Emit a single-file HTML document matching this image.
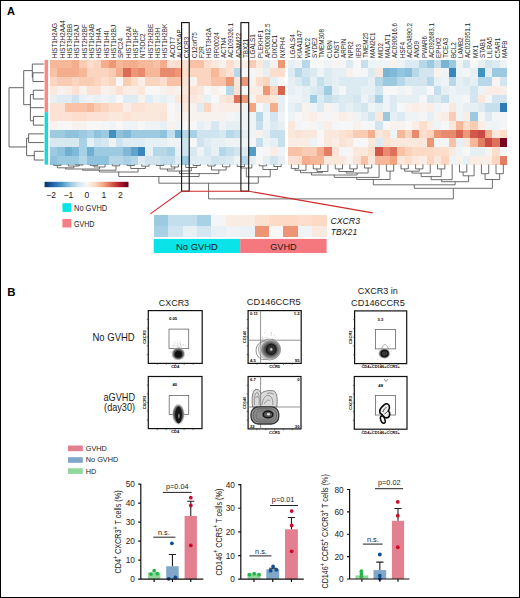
<!DOCTYPE html>
<html><head><meta charset="utf-8"><style>
html,body{margin:0;padding:0;background:#fff;}
body{width:520px;height:598px;overflow:hidden;}
.frame{position:relative;width:520px;height:598px;box-sizing:border-box;border:1px solid #000;border-top-width:1px;}
svg{position:absolute;left:-1px;top:-1px;}
</style></head><body><div class="frame">
<svg width="520" height="598" viewBox="0 0 520 598">
<g shape-rendering="crispEdges">
<rect x="50.00" y="59.70" width="7.64" height="9.03" fill="#f7b89a"/>
<rect x="57.34" y="59.70" width="7.64" height="9.03" fill="#f7b89a"/>
<rect x="64.68" y="59.70" width="7.64" height="9.03" fill="#f7b89a"/>
<rect x="72.02" y="59.70" width="7.64" height="9.03" fill="#f5ae8d"/>
<rect x="79.36" y="59.70" width="7.64" height="9.03" fill="#faccb3"/>
<rect x="86.70" y="59.70" width="7.64" height="9.03" fill="#fdddcb"/>
<rect x="94.04" y="59.70" width="7.64" height="9.03" fill="#fcd5c0"/>
<rect x="101.38" y="59.70" width="7.64" height="9.03" fill="#f5ae8d"/>
<rect x="108.72" y="59.70" width="7.64" height="9.03" fill="#ee9777"/>
<rect x="116.06" y="59.70" width="7.64" height="9.03" fill="#f7b89a"/>
<rect x="123.40" y="59.70" width="7.64" height="9.03" fill="#f5ae8d"/>
<rect x="130.74" y="59.70" width="7.64" height="9.03" fill="#f5ae8d"/>
<rect x="138.08" y="59.70" width="7.64" height="9.03" fill="#f7b89a"/>
<rect x="145.42" y="59.70" width="7.64" height="9.03" fill="#f7b89a"/>
<rect x="152.76" y="59.70" width="7.64" height="9.03" fill="#f9c2a7"/>
<rect x="160.10" y="59.70" width="7.64" height="9.03" fill="#f5ae8d"/>
<rect x="167.44" y="59.70" width="7.64" height="9.03" fill="#fbe2d4"/>
<rect x="174.78" y="59.70" width="7.64" height="9.03" fill="#fdddcb"/>
<rect x="182.12" y="59.70" width="7.64" height="9.03" fill="#fbe2d4"/>
<rect x="189.46" y="59.70" width="7.64" height="9.03" fill="#f9c2a7"/>
<rect x="196.80" y="59.70" width="7.64" height="9.03" fill="#f9c2a7"/>
<rect x="204.14" y="59.70" width="7.64" height="9.03" fill="#fdddcb"/>
<rect x="211.48" y="59.70" width="7.64" height="9.03" fill="#fae8dd"/>
<rect x="218.82" y="59.70" width="7.64" height="9.03" fill="#f8f2ee"/>
<rect x="226.16" y="59.70" width="7.64" height="9.03" fill="#fdddcb"/>
<rect x="233.50" y="59.70" width="7.64" height="9.03" fill="#f9ede5"/>
<rect x="240.84" y="59.70" width="7.64" height="9.03" fill="#f9ede5"/>
<rect x="248.18" y="59.70" width="7.64" height="9.03" fill="#faccb3"/>
<rect x="255.52" y="59.70" width="7.64" height="9.03" fill="#fae8dd"/>
<rect x="262.86" y="59.70" width="7.64" height="9.03" fill="#dceaf2"/>
<rect x="270.20" y="59.70" width="7.64" height="9.03" fill="#f8f2ee"/>
<rect x="277.54" y="59.70" width="7.64" height="9.03" fill="#ee9777"/>
<rect x="287.70" y="59.70" width="7.61" height="9.03" fill="#e5eff4"/>
<rect x="295.01" y="59.70" width="7.61" height="9.03" fill="#eef3f5"/>
<rect x="302.32" y="59.70" width="7.61" height="9.03" fill="#b7d8e9"/>
<rect x="309.63" y="59.70" width="7.61" height="9.03" fill="#f7f7f7"/>
<rect x="316.94" y="59.70" width="7.61" height="9.03" fill="#f7f7f7"/>
<rect x="324.25" y="59.70" width="7.61" height="9.03" fill="#eef3f5"/>
<rect x="331.56" y="59.70" width="7.61" height="9.03" fill="#f8f4f3"/>
<rect x="338.87" y="59.70" width="7.61" height="9.03" fill="#f3f5f6"/>
<rect x="346.18" y="59.70" width="7.61" height="9.03" fill="#dceaf2"/>
<rect x="353.49" y="59.70" width="7.61" height="9.03" fill="#f7f7f7"/>
<rect x="360.80" y="59.70" width="7.61" height="9.03" fill="#c6dfed"/>
<rect x="368.11" y="59.70" width="7.61" height="9.03" fill="#eef3f5"/>
<rect x="375.42" y="59.70" width="7.61" height="9.03" fill="#eef3f5"/>
<rect x="382.73" y="59.70" width="7.61" height="9.03" fill="#eef3f5"/>
<rect x="390.04" y="59.70" width="7.61" height="9.03" fill="#f8f2ee"/>
<rect x="397.35" y="59.70" width="7.61" height="9.03" fill="#eef3f5"/>
<rect x="404.66" y="59.70" width="7.61" height="9.03" fill="#dceaf2"/>
<rect x="411.97" y="59.70" width="7.61" height="9.03" fill="#dceaf2"/>
<rect x="419.28" y="59.70" width="7.61" height="9.03" fill="#b7d8e9"/>
<rect x="426.59" y="59.70" width="7.61" height="9.03" fill="#9ac9e0"/>
<rect x="433.90" y="59.70" width="7.61" height="9.03" fill="#c6dfed"/>
<rect x="441.21" y="59.70" width="7.61" height="9.03" fill="#77b4d5"/>
<rect x="448.52" y="59.70" width="7.61" height="9.03" fill="#9ac9e0"/>
<rect x="455.83" y="59.70" width="7.61" height="9.03" fill="#eef3f5"/>
<rect x="463.14" y="59.70" width="7.61" height="9.03" fill="#d3e6f0"/>
<rect x="470.45" y="59.70" width="7.61" height="9.03" fill="#f7f7f7"/>
<rect x="477.76" y="59.70" width="7.61" height="9.03" fill="#e5eff4"/>
<rect x="485.07" y="59.70" width="7.61" height="9.03" fill="#d3e6f0"/>
<rect x="492.38" y="59.70" width="7.61" height="9.03" fill="#dceaf2"/>
<rect x="499.69" y="59.70" width="7.61" height="9.03" fill="#eef3f5"/>
<rect x="50.00" y="68.42" width="7.64" height="9.03" fill="#f9c2a7"/>
<rect x="57.34" y="68.42" width="7.64" height="9.03" fill="#f5ae8d"/>
<rect x="64.68" y="68.42" width="7.64" height="9.03" fill="#f5ae8d"/>
<rect x="72.02" y="68.42" width="7.64" height="9.03" fill="#f5ae8d"/>
<rect x="79.36" y="68.42" width="7.64" height="9.03" fill="#f7b89a"/>
<rect x="86.70" y="68.42" width="7.64" height="9.03" fill="#fcd5c0"/>
<rect x="94.04" y="68.42" width="7.64" height="9.03" fill="#fcd5c0"/>
<rect x="101.38" y="68.42" width="7.64" height="9.03" fill="#fcd5c0"/>
<rect x="108.72" y="68.42" width="7.64" height="9.03" fill="#faccb3"/>
<rect x="116.06" y="68.42" width="7.64" height="9.03" fill="#f5ae8d"/>
<rect x="123.40" y="68.42" width="7.64" height="9.03" fill="#db6b55"/>
<rect x="130.74" y="68.42" width="7.64" height="9.03" fill="#ee9777"/>
<rect x="138.08" y="68.42" width="7.64" height="9.03" fill="#e88a6d"/>
<rect x="145.42" y="68.42" width="7.64" height="9.03" fill="#f7b89a"/>
<rect x="152.76" y="68.42" width="7.64" height="9.03" fill="#f7b89a"/>
<rect x="160.10" y="68.42" width="7.64" height="9.03" fill="#e88a6d"/>
<rect x="167.44" y="68.42" width="7.64" height="9.03" fill="#e88a6d"/>
<rect x="174.78" y="68.42" width="7.64" height="9.03" fill="#ee9777"/>
<rect x="182.12" y="68.42" width="7.64" height="9.03" fill="#fdddcb"/>
<rect x="189.46" y="68.42" width="7.64" height="9.03" fill="#fcd5c0"/>
<rect x="196.80" y="68.42" width="7.64" height="9.03" fill="#fcd5c0"/>
<rect x="204.14" y="68.42" width="7.64" height="9.03" fill="#fcd5c0"/>
<rect x="211.48" y="68.42" width="7.64" height="9.03" fill="#f7b89a"/>
<rect x="218.82" y="68.42" width="7.64" height="9.03" fill="#fcd5c0"/>
<rect x="226.16" y="68.42" width="7.64" height="9.03" fill="#fbe2d4"/>
<rect x="233.50" y="68.42" width="7.64" height="9.03" fill="#b7d8e9"/>
<rect x="240.84" y="68.42" width="7.64" height="9.03" fill="#f7f7f7"/>
<rect x="248.18" y="68.42" width="7.64" height="9.03" fill="#f3f5f6"/>
<rect x="255.52" y="68.42" width="7.64" height="9.03" fill="#f8f2ee"/>
<rect x="262.86" y="68.42" width="7.64" height="9.03" fill="#e5eff4"/>
<rect x="270.20" y="68.42" width="7.64" height="9.03" fill="#fdddcb"/>
<rect x="277.54" y="68.42" width="7.64" height="9.03" fill="#fdddcb"/>
<rect x="287.70" y="68.42" width="7.61" height="9.03" fill="#dceaf2"/>
<rect x="295.01" y="68.42" width="7.61" height="9.03" fill="#b7d8e9"/>
<rect x="302.32" y="68.42" width="7.61" height="9.03" fill="#d3e6f0"/>
<rect x="309.63" y="68.42" width="7.61" height="9.03" fill="#dceaf2"/>
<rect x="316.94" y="68.42" width="7.61" height="9.03" fill="#eef3f5"/>
<rect x="324.25" y="68.42" width="7.61" height="9.03" fill="#dceaf2"/>
<rect x="331.56" y="68.42" width="7.61" height="9.03" fill="#e5eff4"/>
<rect x="338.87" y="68.42" width="7.61" height="9.03" fill="#e5eff4"/>
<rect x="346.18" y="68.42" width="7.61" height="9.03" fill="#f8f2ee"/>
<rect x="353.49" y="68.42" width="7.61" height="9.03" fill="#f7f7f7"/>
<rect x="360.80" y="68.42" width="7.61" height="9.03" fill="#f3f5f6"/>
<rect x="368.11" y="68.42" width="7.61" height="9.03" fill="#dceaf2"/>
<rect x="375.42" y="68.42" width="7.61" height="9.03" fill="#fae8dd"/>
<rect x="382.73" y="68.42" width="7.61" height="9.03" fill="#77b4d5"/>
<rect x="390.04" y="68.42" width="7.61" height="9.03" fill="#80bad8"/>
<rect x="397.35" y="68.42" width="7.61" height="9.03" fill="#92c5de"/>
<rect x="404.66" y="68.42" width="7.61" height="9.03" fill="#89bfdb"/>
<rect x="411.97" y="68.42" width="7.61" height="9.03" fill="#b7d8e9"/>
<rect x="419.28" y="68.42" width="7.61" height="9.03" fill="#d3e6f0"/>
<rect x="426.59" y="68.42" width="7.61" height="9.03" fill="#d3e6f0"/>
<rect x="433.90" y="68.42" width="7.61" height="9.03" fill="#f8f2ee"/>
<rect x="441.21" y="68.42" width="7.61" height="9.03" fill="#eef3f5"/>
<rect x="448.52" y="68.42" width="7.61" height="9.03" fill="#3986bc"/>
<rect x="455.83" y="68.42" width="7.61" height="9.03" fill="#eef3f5"/>
<rect x="463.14" y="68.42" width="7.61" height="9.03" fill="#f3f5f6"/>
<rect x="470.45" y="68.42" width="7.61" height="9.03" fill="#e5eff4"/>
<rect x="477.76" y="68.42" width="7.61" height="9.03" fill="#4191c2"/>
<rect x="485.07" y="68.42" width="7.61" height="9.03" fill="#e5eff4"/>
<rect x="492.38" y="68.42" width="7.61" height="9.03" fill="#9ac9e0"/>
<rect x="499.69" y="68.42" width="7.61" height="9.03" fill="#9ac9e0"/>
<rect x="50.00" y="77.15" width="7.64" height="9.03" fill="#fcd5c0"/>
<rect x="57.34" y="77.15" width="7.64" height="9.03" fill="#faccb3"/>
<rect x="64.68" y="77.15" width="7.64" height="9.03" fill="#faccb3"/>
<rect x="72.02" y="77.15" width="7.64" height="9.03" fill="#fcd5c0"/>
<rect x="79.36" y="77.15" width="7.64" height="9.03" fill="#faccb3"/>
<rect x="86.70" y="77.15" width="7.64" height="9.03" fill="#faccb3"/>
<rect x="94.04" y="77.15" width="7.64" height="9.03" fill="#fcd5c0"/>
<rect x="101.38" y="77.15" width="7.64" height="9.03" fill="#fdddcb"/>
<rect x="108.72" y="77.15" width="7.64" height="9.03" fill="#fcd5c0"/>
<rect x="116.06" y="77.15" width="7.64" height="9.03" fill="#f7f7f7"/>
<rect x="123.40" y="77.15" width="7.64" height="9.03" fill="#faccb3"/>
<rect x="130.74" y="77.15" width="7.64" height="9.03" fill="#fdddcb"/>
<rect x="138.08" y="77.15" width="7.64" height="9.03" fill="#f9ede5"/>
<rect x="145.42" y="77.15" width="7.64" height="9.03" fill="#fcd5c0"/>
<rect x="152.76" y="77.15" width="7.64" height="9.03" fill="#fcd5c0"/>
<rect x="160.10" y="77.15" width="7.64" height="9.03" fill="#fdddcb"/>
<rect x="167.44" y="77.15" width="7.64" height="9.03" fill="#f9c2a7"/>
<rect x="174.78" y="77.15" width="7.64" height="9.03" fill="#f9c2a7"/>
<rect x="182.12" y="77.15" width="7.64" height="9.03" fill="#fbe2d4"/>
<rect x="189.46" y="77.15" width="7.64" height="9.03" fill="#f8f2ee"/>
<rect x="196.80" y="77.15" width="7.64" height="9.03" fill="#fcd5c0"/>
<rect x="204.14" y="77.15" width="7.64" height="9.03" fill="#fcd5c0"/>
<rect x="211.48" y="77.15" width="7.64" height="9.03" fill="#f9c2a7"/>
<rect x="218.82" y="77.15" width="7.64" height="9.03" fill="#f9c2a7"/>
<rect x="226.16" y="77.15" width="7.64" height="9.03" fill="#ee9777"/>
<rect x="233.50" y="77.15" width="7.64" height="9.03" fill="#fae8dd"/>
<rect x="240.84" y="77.15" width="7.64" height="9.03" fill="#ee9777"/>
<rect x="248.18" y="77.15" width="7.64" height="9.03" fill="#f8f2ee"/>
<rect x="255.52" y="77.15" width="7.64" height="9.03" fill="#fdddcb"/>
<rect x="262.86" y="77.15" width="7.64" height="9.03" fill="#fcd5c0"/>
<rect x="270.20" y="77.15" width="7.64" height="9.03" fill="#e5eff4"/>
<rect x="277.54" y="77.15" width="7.64" height="9.03" fill="#f7f7f7"/>
<rect x="287.70" y="77.15" width="7.61" height="9.03" fill="#e5eff4"/>
<rect x="295.01" y="77.15" width="7.61" height="9.03" fill="#dceaf2"/>
<rect x="302.32" y="77.15" width="7.61" height="9.03" fill="#c6dfed"/>
<rect x="309.63" y="77.15" width="7.61" height="9.03" fill="#e5eff4"/>
<rect x="316.94" y="77.15" width="7.61" height="9.03" fill="#c6dfed"/>
<rect x="324.25" y="77.15" width="7.61" height="9.03" fill="#dceaf2"/>
<rect x="331.56" y="77.15" width="7.61" height="9.03" fill="#e5eff4"/>
<rect x="338.87" y="77.15" width="7.61" height="9.03" fill="#dceaf2"/>
<rect x="346.18" y="77.15" width="7.61" height="9.03" fill="#dceaf2"/>
<rect x="353.49" y="77.15" width="7.61" height="9.03" fill="#dceaf2"/>
<rect x="360.80" y="77.15" width="7.61" height="9.03" fill="#dceaf2"/>
<rect x="368.11" y="77.15" width="7.61" height="9.03" fill="#e5eff4"/>
<rect x="375.42" y="77.15" width="7.61" height="9.03" fill="#b7d8e9"/>
<rect x="382.73" y="77.15" width="7.61" height="9.03" fill="#9ac9e0"/>
<rect x="390.04" y="77.15" width="7.61" height="9.03" fill="#9ac9e0"/>
<rect x="397.35" y="77.15" width="7.61" height="9.03" fill="#b7d8e9"/>
<rect x="404.66" y="77.15" width="7.61" height="9.03" fill="#d3e6f0"/>
<rect x="411.97" y="77.15" width="7.61" height="9.03" fill="#d3e6f0"/>
<rect x="419.28" y="77.15" width="7.61" height="9.03" fill="#d3e6f0"/>
<rect x="426.59" y="77.15" width="7.61" height="9.03" fill="#b7d8e9"/>
<rect x="433.90" y="77.15" width="7.61" height="9.03" fill="#e5eff4"/>
<rect x="441.21" y="77.15" width="7.61" height="9.03" fill="#eef3f5"/>
<rect x="448.52" y="77.15" width="7.61" height="9.03" fill="#b7d8e9"/>
<rect x="455.83" y="77.15" width="7.61" height="9.03" fill="#e5eff4"/>
<rect x="463.14" y="77.15" width="7.61" height="9.03" fill="#dceaf2"/>
<rect x="470.45" y="77.15" width="7.61" height="9.03" fill="#e5eff4"/>
<rect x="477.76" y="77.15" width="7.61" height="9.03" fill="#b7d8e9"/>
<rect x="485.07" y="77.15" width="7.61" height="9.03" fill="#b7d8e9"/>
<rect x="492.38" y="77.15" width="7.61" height="9.03" fill="#f8f4f3"/>
<rect x="499.69" y="77.15" width="7.61" height="9.03" fill="#d3e6f0"/>
<rect x="50.00" y="85.88" width="7.64" height="9.03" fill="#fae8dd"/>
<rect x="57.34" y="85.88" width="7.64" height="9.03" fill="#f8f2ee"/>
<rect x="64.68" y="85.88" width="7.64" height="9.03" fill="#f9ede5"/>
<rect x="72.02" y="85.88" width="7.64" height="9.03" fill="#fbe2d4"/>
<rect x="79.36" y="85.88" width="7.64" height="9.03" fill="#f8f2ee"/>
<rect x="86.70" y="85.88" width="7.64" height="9.03" fill="#fbe2d4"/>
<rect x="94.04" y="85.88" width="7.64" height="9.03" fill="#fbe2d4"/>
<rect x="101.38" y="85.88" width="7.64" height="9.03" fill="#f8f2ee"/>
<rect x="108.72" y="85.88" width="7.64" height="9.03" fill="#f9ede5"/>
<rect x="116.06" y="85.88" width="7.64" height="9.03" fill="#fbe2d4"/>
<rect x="123.40" y="85.88" width="7.64" height="9.03" fill="#f9ede5"/>
<rect x="130.74" y="85.88" width="7.64" height="9.03" fill="#f9ede5"/>
<rect x="138.08" y="85.88" width="7.64" height="9.03" fill="#fae8dd"/>
<rect x="145.42" y="85.88" width="7.64" height="9.03" fill="#f7f7f7"/>
<rect x="152.76" y="85.88" width="7.64" height="9.03" fill="#f7f7f7"/>
<rect x="160.10" y="85.88" width="7.64" height="9.03" fill="#f8f2ee"/>
<rect x="167.44" y="85.88" width="7.64" height="9.03" fill="#f9ede5"/>
<rect x="174.78" y="85.88" width="7.64" height="9.03" fill="#f8f2ee"/>
<rect x="182.12" y="85.88" width="7.64" height="9.03" fill="#fae8dd"/>
<rect x="189.46" y="85.88" width="7.64" height="9.03" fill="#fbe2d4"/>
<rect x="196.80" y="85.88" width="7.64" height="9.03" fill="#fae8dd"/>
<rect x="204.14" y="85.88" width="7.64" height="9.03" fill="#f7f7f7"/>
<rect x="211.48" y="85.88" width="7.64" height="9.03" fill="#f8f2ee"/>
<rect x="218.82" y="85.88" width="7.64" height="9.03" fill="#f7f7f7"/>
<rect x="226.16" y="85.88" width="7.64" height="9.03" fill="#b7d8e9"/>
<rect x="233.50" y="85.88" width="7.64" height="9.03" fill="#fbe2d4"/>
<rect x="240.84" y="85.88" width="7.64" height="9.03" fill="#f7f7f7"/>
<rect x="248.18" y="85.88" width="7.64" height="9.03" fill="#f9ede5"/>
<rect x="255.52" y="85.88" width="7.64" height="9.03" fill="#f9ede5"/>
<rect x="262.86" y="85.88" width="7.64" height="9.03" fill="#ee9777"/>
<rect x="270.20" y="85.88" width="7.64" height="9.03" fill="#fcd5c0"/>
<rect x="277.54" y="85.88" width="7.64" height="9.03" fill="#d86450"/>
<rect x="287.70" y="85.88" width="7.61" height="9.03" fill="#e5eff4"/>
<rect x="295.01" y="85.88" width="7.61" height="9.03" fill="#eef3f5"/>
<rect x="302.32" y="85.88" width="7.61" height="9.03" fill="#e5eff4"/>
<rect x="309.63" y="85.88" width="7.61" height="9.03" fill="#dceaf2"/>
<rect x="316.94" y="85.88" width="7.61" height="9.03" fill="#d3e6f0"/>
<rect x="324.25" y="85.88" width="7.61" height="9.03" fill="#a1cde2"/>
<rect x="331.56" y="85.88" width="7.61" height="9.03" fill="#e5eff4"/>
<rect x="338.87" y="85.88" width="7.61" height="9.03" fill="#f3f5f6"/>
<rect x="346.18" y="85.88" width="7.61" height="9.03" fill="#dceaf2"/>
<rect x="353.49" y="85.88" width="7.61" height="9.03" fill="#dceaf2"/>
<rect x="360.80" y="85.88" width="7.61" height="9.03" fill="#e5eff4"/>
<rect x="368.11" y="85.88" width="7.61" height="9.03" fill="#e5eff4"/>
<rect x="375.42" y="85.88" width="7.61" height="9.03" fill="#d3e6f0"/>
<rect x="382.73" y="85.88" width="7.61" height="9.03" fill="#f7f7f7"/>
<rect x="390.04" y="85.88" width="7.61" height="9.03" fill="#f7f7f7"/>
<rect x="397.35" y="85.88" width="7.61" height="9.03" fill="#eef3f5"/>
<rect x="404.66" y="85.88" width="7.61" height="9.03" fill="#f3f5f6"/>
<rect x="411.97" y="85.88" width="7.61" height="9.03" fill="#e5eff4"/>
<rect x="419.28" y="85.88" width="7.61" height="9.03" fill="#e5eff4"/>
<rect x="426.59" y="85.88" width="7.61" height="9.03" fill="#f7f7f7"/>
<rect x="433.90" y="85.88" width="7.61" height="9.03" fill="#c6dfed"/>
<rect x="441.21" y="85.88" width="7.61" height="9.03" fill="#e5eff4"/>
<rect x="448.52" y="85.88" width="7.61" height="9.03" fill="#eef3f5"/>
<rect x="455.83" y="85.88" width="7.61" height="9.03" fill="#e5eff4"/>
<rect x="463.14" y="85.88" width="7.61" height="9.03" fill="#e5eff4"/>
<rect x="470.45" y="85.88" width="7.61" height="9.03" fill="#d3e6f0"/>
<rect x="477.76" y="85.88" width="7.61" height="9.03" fill="#eef3f5"/>
<rect x="485.07" y="85.88" width="7.61" height="9.03" fill="#f9ede5"/>
<rect x="492.38" y="85.88" width="7.61" height="9.03" fill="#f9ede5"/>
<rect x="499.69" y="85.88" width="7.61" height="9.03" fill="#f9efea"/>
<rect x="50.00" y="94.60" width="7.64" height="9.03" fill="#e7f0f4"/>
<rect x="57.34" y="94.60" width="7.64" height="9.03" fill="#e0ecf3"/>
<rect x="64.68" y="94.60" width="7.64" height="9.03" fill="#e0ecf3"/>
<rect x="72.02" y="94.60" width="7.64" height="9.03" fill="#d0e4f0"/>
<rect x="79.36" y="94.60" width="7.64" height="9.03" fill="#e7f0f4"/>
<rect x="86.70" y="94.60" width="7.64" height="9.03" fill="#eff3f6"/>
<rect x="94.04" y="94.60" width="7.64" height="9.03" fill="#e7f0f4"/>
<rect x="101.38" y="94.60" width="7.64" height="9.03" fill="#eff3f6"/>
<rect x="108.72" y="94.60" width="7.64" height="9.03" fill="#e7f0f4"/>
<rect x="116.06" y="94.60" width="7.64" height="9.03" fill="#f7f7f7"/>
<rect x="123.40" y="94.60" width="7.64" height="9.03" fill="#e0ecf3"/>
<rect x="130.74" y="94.60" width="7.64" height="9.03" fill="#e0ecf3"/>
<rect x="138.08" y="94.60" width="7.64" height="9.03" fill="#f8f2ee"/>
<rect x="145.42" y="94.60" width="7.64" height="9.03" fill="#e0ecf3"/>
<rect x="152.76" y="94.60" width="7.64" height="9.03" fill="#eff3f6"/>
<rect x="160.10" y="94.60" width="7.64" height="9.03" fill="#e7f0f4"/>
<rect x="167.44" y="94.60" width="7.64" height="9.03" fill="#eff3f6"/>
<rect x="174.78" y="94.60" width="7.64" height="9.03" fill="#fae8dd"/>
<rect x="182.12" y="94.60" width="7.64" height="9.03" fill="#fbe2d4"/>
<rect x="189.46" y="94.60" width="7.64" height="9.03" fill="#fae8dd"/>
<rect x="196.80" y="94.60" width="7.64" height="9.03" fill="#f9ede5"/>
<rect x="204.14" y="94.60" width="7.64" height="9.03" fill="#e7f0f4"/>
<rect x="211.48" y="94.60" width="7.64" height="9.03" fill="#f7f7f7"/>
<rect x="218.82" y="94.60" width="7.64" height="9.03" fill="#fae8dd"/>
<rect x="226.16" y="94.60" width="7.64" height="9.03" fill="#fbe2d4"/>
<rect x="233.50" y="94.60" width="7.64" height="9.03" fill="#dd715a"/>
<rect x="240.84" y="94.60" width="7.64" height="9.03" fill="#ee9777"/>
<rect x="248.18" y="94.60" width="7.64" height="9.03" fill="#f8f2ee"/>
<rect x="255.52" y="94.60" width="7.64" height="9.03" fill="#fdddcb"/>
<rect x="262.86" y="94.60" width="7.64" height="9.03" fill="#fdddcb"/>
<rect x="270.20" y="94.60" width="7.64" height="9.03" fill="#fae8dd"/>
<rect x="277.54" y="94.60" width="7.64" height="9.03" fill="#e5eff4"/>
<rect x="287.70" y="94.60" width="7.61" height="9.03" fill="#eef3f5"/>
<rect x="295.01" y="94.60" width="7.61" height="9.03" fill="#eef3f5"/>
<rect x="302.32" y="94.60" width="7.61" height="9.03" fill="#e5eff4"/>
<rect x="309.63" y="94.60" width="7.61" height="9.03" fill="#a1cde2"/>
<rect x="316.94" y="94.60" width="7.61" height="9.03" fill="#dceaf2"/>
<rect x="324.25" y="94.60" width="7.61" height="9.03" fill="#c6dfed"/>
<rect x="331.56" y="94.60" width="7.61" height="9.03" fill="#d3e6f0"/>
<rect x="338.87" y="94.60" width="7.61" height="9.03" fill="#dceaf2"/>
<rect x="346.18" y="94.60" width="7.61" height="9.03" fill="#dceaf2"/>
<rect x="353.49" y="94.60" width="7.61" height="9.03" fill="#d3e6f0"/>
<rect x="360.80" y="94.60" width="7.61" height="9.03" fill="#eef3f5"/>
<rect x="368.11" y="94.60" width="7.61" height="9.03" fill="#dceaf2"/>
<rect x="375.42" y="94.60" width="7.61" height="9.03" fill="#a9d0e4"/>
<rect x="382.73" y="94.60" width="7.61" height="9.03" fill="#eef3f5"/>
<rect x="390.04" y="94.60" width="7.61" height="9.03" fill="#dceaf2"/>
<rect x="397.35" y="94.60" width="7.61" height="9.03" fill="#e5eff4"/>
<rect x="404.66" y="94.60" width="7.61" height="9.03" fill="#e5eff4"/>
<rect x="411.97" y="94.60" width="7.61" height="9.03" fill="#e5eff4"/>
<rect x="419.28" y="94.60" width="7.61" height="9.03" fill="#f3f5f6"/>
<rect x="426.59" y="94.60" width="7.61" height="9.03" fill="#d3e6f0"/>
<rect x="433.90" y="94.60" width="7.61" height="9.03" fill="#dceaf2"/>
<rect x="441.21" y="94.60" width="7.61" height="9.03" fill="#c6dfed"/>
<rect x="448.52" y="94.60" width="7.61" height="9.03" fill="#eef3f5"/>
<rect x="455.83" y="94.60" width="7.61" height="9.03" fill="#eef3f5"/>
<rect x="463.14" y="94.60" width="7.61" height="9.03" fill="#f3f5f6"/>
<rect x="470.45" y="94.60" width="7.61" height="9.03" fill="#d3e6f0"/>
<rect x="477.76" y="94.60" width="7.61" height="9.03" fill="#fae8dd"/>
<rect x="485.07" y="94.60" width="7.61" height="9.03" fill="#f3f5f6"/>
<rect x="492.38" y="94.60" width="7.61" height="9.03" fill="#d3e6f0"/>
<rect x="499.69" y="94.60" width="7.61" height="9.03" fill="#d3e6f0"/>
<rect x="50.00" y="103.33" width="7.64" height="9.03" fill="#fbe2d4"/>
<rect x="57.34" y="103.33" width="7.64" height="9.03" fill="#fbe2d4"/>
<rect x="64.68" y="103.33" width="7.64" height="9.03" fill="#f9c2a7"/>
<rect x="72.02" y="103.33" width="7.64" height="9.03" fill="#f9c2a7"/>
<rect x="79.36" y="103.33" width="7.64" height="9.03" fill="#f9c2a7"/>
<rect x="86.70" y="103.33" width="7.64" height="9.03" fill="#f7b89a"/>
<rect x="94.04" y="103.33" width="7.64" height="9.03" fill="#faccb3"/>
<rect x="101.38" y="103.33" width="7.64" height="9.03" fill="#fcd5c0"/>
<rect x="108.72" y="103.33" width="7.64" height="9.03" fill="#fdddcb"/>
<rect x="116.06" y="103.33" width="7.64" height="9.03" fill="#fdddcb"/>
<rect x="123.40" y="103.33" width="7.64" height="9.03" fill="#f9ede5"/>
<rect x="130.74" y="103.33" width="7.64" height="9.03" fill="#fbe2d4"/>
<rect x="138.08" y="103.33" width="7.64" height="9.03" fill="#fbe2d4"/>
<rect x="145.42" y="103.33" width="7.64" height="9.03" fill="#fae8dd"/>
<rect x="152.76" y="103.33" width="7.64" height="9.03" fill="#fae8dd"/>
<rect x="160.10" y="103.33" width="7.64" height="9.03" fill="#fae8dd"/>
<rect x="167.44" y="103.33" width="7.64" height="9.03" fill="#f7f7f7"/>
<rect x="174.78" y="103.33" width="7.64" height="9.03" fill="#eff3f6"/>
<rect x="182.12" y="103.33" width="7.64" height="9.03" fill="#fae8dd"/>
<rect x="189.46" y="103.33" width="7.64" height="9.03" fill="#f8f2ee"/>
<rect x="196.80" y="103.33" width="7.64" height="9.03" fill="#e0ecf3"/>
<rect x="204.14" y="103.33" width="7.64" height="9.03" fill="#fcd5c0"/>
<rect x="211.48" y="103.33" width="7.64" height="9.03" fill="#f8f2ee"/>
<rect x="218.82" y="103.33" width="7.64" height="9.03" fill="#f9ede5"/>
<rect x="226.16" y="103.33" width="7.64" height="9.03" fill="#f9ede5"/>
<rect x="233.50" y="103.33" width="7.64" height="9.03" fill="#f9ede5"/>
<rect x="240.84" y="103.33" width="7.64" height="9.03" fill="#eef3f5"/>
<rect x="248.18" y="103.33" width="7.64" height="9.03" fill="#f3a481"/>
<rect x="255.52" y="103.33" width="7.64" height="9.03" fill="#f7f7f7"/>
<rect x="262.86" y="103.33" width="7.64" height="9.03" fill="#e5eff4"/>
<rect x="270.20" y="103.33" width="7.64" height="9.03" fill="#f5ae8d"/>
<rect x="277.54" y="103.33" width="7.64" height="9.03" fill="#e5eff4"/>
<rect x="287.70" y="103.33" width="7.61" height="9.03" fill="#e5eff4"/>
<rect x="295.01" y="103.33" width="7.61" height="9.03" fill="#dceaf2"/>
<rect x="302.32" y="103.33" width="7.61" height="9.03" fill="#f8f2ee"/>
<rect x="309.63" y="103.33" width="7.61" height="9.03" fill="#eef3f5"/>
<rect x="316.94" y="103.33" width="7.61" height="9.03" fill="#dceaf2"/>
<rect x="324.25" y="103.33" width="7.61" height="9.03" fill="#f8f2ee"/>
<rect x="331.56" y="103.33" width="7.61" height="9.03" fill="#eef3f5"/>
<rect x="338.87" y="103.33" width="7.61" height="9.03" fill="#dceaf2"/>
<rect x="346.18" y="103.33" width="7.61" height="9.03" fill="#e5eff4"/>
<rect x="353.49" y="103.33" width="7.61" height="9.03" fill="#dceaf2"/>
<rect x="360.80" y="103.33" width="7.61" height="9.03" fill="#d3e6f0"/>
<rect x="368.11" y="103.33" width="7.61" height="9.03" fill="#eef3f5"/>
<rect x="375.42" y="103.33" width="7.61" height="9.03" fill="#e5eff4"/>
<rect x="382.73" y="103.33" width="7.61" height="9.03" fill="#eef3f5"/>
<rect x="390.04" y="103.33" width="7.61" height="9.03" fill="#dceaf2"/>
<rect x="397.35" y="103.33" width="7.61" height="9.03" fill="#f7f7f7"/>
<rect x="404.66" y="103.33" width="7.61" height="9.03" fill="#f8f2ee"/>
<rect x="411.97" y="103.33" width="7.61" height="9.03" fill="#f9ede5"/>
<rect x="419.28" y="103.33" width="7.61" height="9.03" fill="#f8f2ee"/>
<rect x="426.59" y="103.33" width="7.61" height="9.03" fill="#f9ede5"/>
<rect x="433.90" y="103.33" width="7.61" height="9.03" fill="#eef3f5"/>
<rect x="441.21" y="103.33" width="7.61" height="9.03" fill="#f3f5f6"/>
<rect x="448.52" y="103.33" width="7.61" height="9.03" fill="#fae8dd"/>
<rect x="455.83" y="103.33" width="7.61" height="9.03" fill="#eef3f5"/>
<rect x="463.14" y="103.33" width="7.61" height="9.03" fill="#e5eff4"/>
<rect x="470.45" y="103.33" width="7.61" height="9.03" fill="#e5eff4"/>
<rect x="477.76" y="103.33" width="7.61" height="9.03" fill="#dceaf2"/>
<rect x="485.07" y="103.33" width="7.61" height="9.03" fill="#c6dfed"/>
<rect x="492.38" y="103.33" width="7.61" height="9.03" fill="#c6dfed"/>
<rect x="499.69" y="103.33" width="7.61" height="9.03" fill="#317cb7"/>
<rect x="50.00" y="112.05" width="7.64" height="9.03" fill="#fbe2d4"/>
<rect x="57.34" y="112.05" width="7.64" height="9.03" fill="#fbe2d4"/>
<rect x="64.68" y="112.05" width="7.64" height="9.03" fill="#fbe2d4"/>
<rect x="72.02" y="112.05" width="7.64" height="9.03" fill="#fdddcb"/>
<rect x="79.36" y="112.05" width="7.64" height="9.03" fill="#fdddcb"/>
<rect x="86.70" y="112.05" width="7.64" height="9.03" fill="#fbe2d4"/>
<rect x="94.04" y="112.05" width="7.64" height="9.03" fill="#fbe2d4"/>
<rect x="101.38" y="112.05" width="7.64" height="9.03" fill="#fbe2d4"/>
<rect x="108.72" y="112.05" width="7.64" height="9.03" fill="#fae8dd"/>
<rect x="116.06" y="112.05" width="7.64" height="9.03" fill="#fae8dd"/>
<rect x="123.40" y="112.05" width="7.64" height="9.03" fill="#fbe2d4"/>
<rect x="130.74" y="112.05" width="7.64" height="9.03" fill="#fae8dd"/>
<rect x="138.08" y="112.05" width="7.64" height="9.03" fill="#fae8dd"/>
<rect x="145.42" y="112.05" width="7.64" height="9.03" fill="#fae8dd"/>
<rect x="152.76" y="112.05" width="7.64" height="9.03" fill="#fae8dd"/>
<rect x="160.10" y="112.05" width="7.64" height="9.03" fill="#fbe2d4"/>
<rect x="167.44" y="112.05" width="7.64" height="9.03" fill="#f7f7f7"/>
<rect x="174.78" y="112.05" width="7.64" height="9.03" fill="#f8f2ee"/>
<rect x="182.12" y="112.05" width="7.64" height="9.03" fill="#f8f2ee"/>
<rect x="189.46" y="112.05" width="7.64" height="9.03" fill="#f8f2ee"/>
<rect x="196.80" y="112.05" width="7.64" height="9.03" fill="#f8f2ee"/>
<rect x="204.14" y="112.05" width="7.64" height="9.03" fill="#f8f2ee"/>
<rect x="211.48" y="112.05" width="7.64" height="9.03" fill="#f8f2ee"/>
<rect x="218.82" y="112.05" width="7.64" height="9.03" fill="#f8f2ee"/>
<rect x="226.16" y="112.05" width="7.64" height="9.03" fill="#f3f5f6"/>
<rect x="233.50" y="112.05" width="7.64" height="9.03" fill="#eef3f5"/>
<rect x="240.84" y="112.05" width="7.64" height="9.03" fill="#eef3f5"/>
<rect x="248.18" y="112.05" width="7.64" height="9.03" fill="#eef3f5"/>
<rect x="255.52" y="112.05" width="7.64" height="9.03" fill="#b7d8e9"/>
<rect x="262.86" y="112.05" width="7.64" height="9.03" fill="#eef3f5"/>
<rect x="270.20" y="112.05" width="7.64" height="9.03" fill="#d3e6f0"/>
<rect x="277.54" y="112.05" width="7.64" height="9.03" fill="#eef3f5"/>
<rect x="287.70" y="112.05" width="7.61" height="9.03" fill="#eef3f5"/>
<rect x="295.01" y="112.05" width="7.61" height="9.03" fill="#f7f7f7"/>
<rect x="302.32" y="112.05" width="7.61" height="9.03" fill="#f8f2ee"/>
<rect x="309.63" y="112.05" width="7.61" height="9.03" fill="#f9ede5"/>
<rect x="316.94" y="112.05" width="7.61" height="9.03" fill="#f8f4f3"/>
<rect x="324.25" y="112.05" width="7.61" height="9.03" fill="#f3f5f6"/>
<rect x="331.56" y="112.05" width="7.61" height="9.03" fill="#f8f4f3"/>
<rect x="338.87" y="112.05" width="7.61" height="9.03" fill="#f9ede5"/>
<rect x="346.18" y="112.05" width="7.61" height="9.03" fill="#f8f2ee"/>
<rect x="353.49" y="112.05" width="7.61" height="9.03" fill="#eef3f5"/>
<rect x="360.80" y="112.05" width="7.61" height="9.03" fill="#e5eff4"/>
<rect x="368.11" y="112.05" width="7.61" height="9.03" fill="#d3e6f0"/>
<rect x="375.42" y="112.05" width="7.61" height="9.03" fill="#fae8dd"/>
<rect x="382.73" y="112.05" width="7.61" height="9.03" fill="#9ac9e0"/>
<rect x="390.04" y="112.05" width="7.61" height="9.03" fill="#e5eff4"/>
<rect x="397.35" y="112.05" width="7.61" height="9.03" fill="#dceaf2"/>
<rect x="404.66" y="112.05" width="7.61" height="9.03" fill="#eef3f5"/>
<rect x="411.97" y="112.05" width="7.61" height="9.03" fill="#eef3f5"/>
<rect x="419.28" y="112.05" width="7.61" height="9.03" fill="#f3f5f6"/>
<rect x="426.59" y="112.05" width="7.61" height="9.03" fill="#e5eff4"/>
<rect x="433.90" y="112.05" width="7.61" height="9.03" fill="#f8f2ee"/>
<rect x="441.21" y="112.05" width="7.61" height="9.03" fill="#f9ede5"/>
<rect x="448.52" y="112.05" width="7.61" height="9.03" fill="#faccb3"/>
<rect x="455.83" y="112.05" width="7.61" height="9.03" fill="#eef3f5"/>
<rect x="463.14" y="112.05" width="7.61" height="9.03" fill="#f9ede5"/>
<rect x="470.45" y="112.05" width="7.61" height="9.03" fill="#9ac9e0"/>
<rect x="477.76" y="112.05" width="7.61" height="9.03" fill="#f3f5f6"/>
<rect x="485.07" y="112.05" width="7.61" height="9.03" fill="#dceaf2"/>
<rect x="492.38" y="112.05" width="7.61" height="9.03" fill="#f3f5f6"/>
<rect x="499.69" y="112.05" width="7.61" height="9.03" fill="#f3f5f6"/>
<rect x="50.00" y="120.78" width="7.64" height="9.03" fill="#f8f2ee"/>
<rect x="57.34" y="120.78" width="7.64" height="9.03" fill="#f7f7f7"/>
<rect x="64.68" y="120.78" width="7.64" height="9.03" fill="#f7f7f7"/>
<rect x="72.02" y="120.78" width="7.64" height="9.03" fill="#f8f2ee"/>
<rect x="79.36" y="120.78" width="7.64" height="9.03" fill="#f8f2ee"/>
<rect x="86.70" y="120.78" width="7.64" height="9.03" fill="#f7f7f7"/>
<rect x="94.04" y="120.78" width="7.64" height="9.03" fill="#f7f7f7"/>
<rect x="101.38" y="120.78" width="7.64" height="9.03" fill="#f3f5f6"/>
<rect x="108.72" y="120.78" width="7.64" height="9.03" fill="#eff3f6"/>
<rect x="116.06" y="120.78" width="7.64" height="9.03" fill="#f7f7f7"/>
<rect x="123.40" y="120.78" width="7.64" height="9.03" fill="#eff3f6"/>
<rect x="130.74" y="120.78" width="7.64" height="9.03" fill="#eff3f6"/>
<rect x="138.08" y="120.78" width="7.64" height="9.03" fill="#f7f7f7"/>
<rect x="145.42" y="120.78" width="7.64" height="9.03" fill="#eff3f6"/>
<rect x="152.76" y="120.78" width="7.64" height="9.03" fill="#eff3f6"/>
<rect x="160.10" y="120.78" width="7.64" height="9.03" fill="#e7f0f4"/>
<rect x="167.44" y="120.78" width="7.64" height="9.03" fill="#f8f2ee"/>
<rect x="174.78" y="120.78" width="7.64" height="9.03" fill="#eff3f6"/>
<rect x="182.12" y="120.78" width="7.64" height="9.03" fill="#f7f7f7"/>
<rect x="189.46" y="120.78" width="7.64" height="9.03" fill="#f7f7f7"/>
<rect x="196.80" y="120.78" width="7.64" height="9.03" fill="#e7f0f4"/>
<rect x="204.14" y="120.78" width="7.64" height="9.03" fill="#eff3f6"/>
<rect x="211.48" y="120.78" width="7.64" height="9.03" fill="#d8e8f1"/>
<rect x="218.82" y="120.78" width="7.64" height="9.03" fill="#eff3f6"/>
<rect x="226.16" y="120.78" width="7.64" height="9.03" fill="#e5eff4"/>
<rect x="233.50" y="120.78" width="7.64" height="9.03" fill="#e5eff4"/>
<rect x="240.84" y="120.78" width="7.64" height="9.03" fill="#eef3f5"/>
<rect x="248.18" y="120.78" width="7.64" height="9.03" fill="#eef3f5"/>
<rect x="255.52" y="120.78" width="7.64" height="9.03" fill="#c6dfed"/>
<rect x="262.86" y="120.78" width="7.64" height="9.03" fill="#eef3f5"/>
<rect x="270.20" y="120.78" width="7.64" height="9.03" fill="#dceaf2"/>
<rect x="277.54" y="120.78" width="7.64" height="9.03" fill="#e5eff4"/>
<rect x="287.70" y="120.78" width="7.61" height="9.03" fill="#fae8dd"/>
<rect x="295.01" y="120.78" width="7.61" height="9.03" fill="#f3f5f6"/>
<rect x="302.32" y="120.78" width="7.61" height="9.03" fill="#f7f7f7"/>
<rect x="309.63" y="120.78" width="7.61" height="9.03" fill="#f8f4f3"/>
<rect x="316.94" y="120.78" width="7.61" height="9.03" fill="#eef3f5"/>
<rect x="324.25" y="120.78" width="7.61" height="9.03" fill="#f9ede5"/>
<rect x="331.56" y="120.78" width="7.61" height="9.03" fill="#f3f5f6"/>
<rect x="338.87" y="120.78" width="7.61" height="9.03" fill="#f7f7f7"/>
<rect x="346.18" y="120.78" width="7.61" height="9.03" fill="#f7f7f7"/>
<rect x="353.49" y="120.78" width="7.61" height="9.03" fill="#f8f2ee"/>
<rect x="360.80" y="120.78" width="7.61" height="9.03" fill="#f7f7f7"/>
<rect x="368.11" y="120.78" width="7.61" height="9.03" fill="#f3f5f6"/>
<rect x="375.42" y="120.78" width="7.61" height="9.03" fill="#d3e6f0"/>
<rect x="382.73" y="120.78" width="7.61" height="9.03" fill="#f7f7f7"/>
<rect x="390.04" y="120.78" width="7.61" height="9.03" fill="#f8f2ee"/>
<rect x="397.35" y="120.78" width="7.61" height="9.03" fill="#f8f2ee"/>
<rect x="404.66" y="120.78" width="7.61" height="9.03" fill="#f7f7f7"/>
<rect x="411.97" y="120.78" width="7.61" height="9.03" fill="#f9ede5"/>
<rect x="419.28" y="120.78" width="7.61" height="9.03" fill="#fdddcb"/>
<rect x="426.59" y="120.78" width="7.61" height="9.03" fill="#f9ede5"/>
<rect x="433.90" y="120.78" width="7.61" height="9.03" fill="#eef3f5"/>
<rect x="441.21" y="120.78" width="7.61" height="9.03" fill="#f7f7f7"/>
<rect x="448.52" y="120.78" width="7.61" height="9.03" fill="#fae8dd"/>
<rect x="455.83" y="120.78" width="7.61" height="9.03" fill="#f7b89a"/>
<rect x="463.14" y="120.78" width="7.61" height="9.03" fill="#fdddcb"/>
<rect x="470.45" y="120.78" width="7.61" height="9.03" fill="#faccb3"/>
<rect x="477.76" y="120.78" width="7.61" height="9.03" fill="#f9ede5"/>
<rect x="485.07" y="120.78" width="7.61" height="9.03" fill="#eef3f5"/>
<rect x="492.38" y="120.78" width="7.61" height="9.03" fill="#eef3f5"/>
<rect x="499.69" y="120.78" width="7.61" height="9.03" fill="#f3f5f6"/>
<rect x="50.00" y="129.50" width="7.64" height="9.03" fill="#9ccae1"/>
<rect x="57.34" y="129.50" width="7.64" height="9.03" fill="#9ccae1"/>
<rect x="64.68" y="129.50" width="7.64" height="9.03" fill="#8fc3dd"/>
<rect x="72.02" y="129.50" width="7.64" height="9.03" fill="#8fc3dd"/>
<rect x="79.36" y="129.50" width="7.64" height="9.03" fill="#9ccae1"/>
<rect x="86.70" y="129.50" width="7.64" height="9.03" fill="#a9d1e5"/>
<rect x="94.04" y="129.50" width="7.64" height="9.03" fill="#8fc3dd"/>
<rect x="101.38" y="129.50" width="7.64" height="9.03" fill="#9ccae1"/>
<rect x="108.72" y="129.50" width="7.64" height="9.03" fill="#4190c2"/>
<rect x="116.06" y="129.50" width="7.64" height="9.03" fill="#8fc3dd"/>
<rect x="123.40" y="129.50" width="7.64" height="9.03" fill="#7fb9d7"/>
<rect x="130.74" y="129.50" width="7.64" height="9.03" fill="#9ccae1"/>
<rect x="138.08" y="129.50" width="7.64" height="9.03" fill="#9ccae1"/>
<rect x="145.42" y="129.50" width="7.64" height="9.03" fill="#9ccae1"/>
<rect x="152.76" y="129.50" width="7.64" height="9.03" fill="#9ccae1"/>
<rect x="160.10" y="129.50" width="7.64" height="9.03" fill="#8fc3dd"/>
<rect x="167.44" y="129.50" width="7.64" height="9.03" fill="#c3deec"/>
<rect x="174.78" y="129.50" width="7.64" height="9.03" fill="#6fafd2"/>
<rect x="182.12" y="129.50" width="7.64" height="9.03" fill="#b6d7e8"/>
<rect x="189.46" y="129.50" width="7.64" height="9.03" fill="#a9d1e5"/>
<rect x="196.80" y="129.50" width="7.64" height="9.03" fill="#d0e4f0"/>
<rect x="204.14" y="129.50" width="7.64" height="9.03" fill="#d0e4f0"/>
<rect x="211.48" y="129.50" width="7.64" height="9.03" fill="#d0e4f0"/>
<rect x="218.82" y="129.50" width="7.64" height="9.03" fill="#d8e8f1"/>
<rect x="226.16" y="129.50" width="7.64" height="9.03" fill="#b7d8e9"/>
<rect x="233.50" y="129.50" width="7.64" height="9.03" fill="#c6dfed"/>
<rect x="240.84" y="129.50" width="7.64" height="9.03" fill="#e5eff4"/>
<rect x="248.18" y="129.50" width="7.64" height="9.03" fill="#eef3f5"/>
<rect x="255.52" y="129.50" width="7.64" height="9.03" fill="#f8f2ee"/>
<rect x="262.86" y="129.50" width="7.64" height="9.03" fill="#e5eff4"/>
<rect x="270.20" y="129.50" width="7.64" height="9.03" fill="#c6dfed"/>
<rect x="277.54" y="129.50" width="7.64" height="9.03" fill="#c6dfed"/>
<rect x="287.70" y="129.50" width="7.61" height="9.03" fill="#fae8dd"/>
<rect x="295.01" y="129.50" width="7.61" height="9.03" fill="#fbe2d4"/>
<rect x="302.32" y="129.50" width="7.61" height="9.03" fill="#fae8dd"/>
<rect x="309.63" y="129.50" width="7.61" height="9.03" fill="#fae8dd"/>
<rect x="316.94" y="129.50" width="7.61" height="9.03" fill="#f7f7f7"/>
<rect x="324.25" y="129.50" width="7.61" height="9.03" fill="#fae8dd"/>
<rect x="331.56" y="129.50" width="7.61" height="9.03" fill="#fae8dd"/>
<rect x="338.87" y="129.50" width="7.61" height="9.03" fill="#fbe2d4"/>
<rect x="346.18" y="129.50" width="7.61" height="9.03" fill="#fdddcb"/>
<rect x="353.49" y="129.50" width="7.61" height="9.03" fill="#faccb3"/>
<rect x="360.80" y="129.50" width="7.61" height="9.03" fill="#faccb3"/>
<rect x="368.11" y="129.50" width="7.61" height="9.03" fill="#f5ae8d"/>
<rect x="375.42" y="129.50" width="7.61" height="9.03" fill="#fae8dd"/>
<rect x="382.73" y="129.50" width="7.61" height="9.03" fill="#fdddcb"/>
<rect x="390.04" y="129.50" width="7.61" height="9.03" fill="#eef3f5"/>
<rect x="397.35" y="129.50" width="7.61" height="9.03" fill="#f7b89a"/>
<rect x="404.66" y="129.50" width="7.61" height="9.03" fill="#fcd5c0"/>
<rect x="411.97" y="129.50" width="7.61" height="9.03" fill="#e88a6d"/>
<rect x="419.28" y="129.50" width="7.61" height="9.03" fill="#fdddcb"/>
<rect x="426.59" y="129.50" width="7.61" height="9.03" fill="#fcd5c0"/>
<rect x="433.90" y="129.50" width="7.61" height="9.03" fill="#ee9777"/>
<rect x="441.21" y="129.50" width="7.61" height="9.03" fill="#e88a6d"/>
<rect x="448.52" y="129.50" width="7.61" height="9.03" fill="#e88a6d"/>
<rect x="455.83" y="129.50" width="7.61" height="9.03" fill="#d86450"/>
<rect x="463.14" y="129.50" width="7.61" height="9.03" fill="#ee9777"/>
<rect x="470.45" y="129.50" width="7.61" height="9.03" fill="#d25749"/>
<rect x="477.76" y="129.50" width="7.61" height="9.03" fill="#cb4a43"/>
<rect x="485.07" y="129.50" width="7.61" height="9.03" fill="#f5ae8d"/>
<rect x="492.38" y="129.50" width="7.61" height="9.03" fill="#fae8dd"/>
<rect x="499.69" y="129.50" width="7.61" height="9.03" fill="#fdddcb"/>
<rect x="50.00" y="138.22" width="7.64" height="9.03" fill="#d8e8f1"/>
<rect x="57.34" y="138.22" width="7.64" height="9.03" fill="#d8e8f1"/>
<rect x="64.68" y="138.22" width="7.64" height="9.03" fill="#d8e8f1"/>
<rect x="72.02" y="138.22" width="7.64" height="9.03" fill="#d8e8f1"/>
<rect x="79.36" y="138.22" width="7.64" height="9.03" fill="#a9d1e5"/>
<rect x="86.70" y="138.22" width="7.64" height="9.03" fill="#e7f0f4"/>
<rect x="94.04" y="138.22" width="7.64" height="9.03" fill="#d0e4f0"/>
<rect x="101.38" y="138.22" width="7.64" height="9.03" fill="#d8e8f1"/>
<rect x="108.72" y="138.22" width="7.64" height="9.03" fill="#eff3f6"/>
<rect x="116.06" y="138.22" width="7.64" height="9.03" fill="#d0e4f0"/>
<rect x="123.40" y="138.22" width="7.64" height="9.03" fill="#e0ecf3"/>
<rect x="130.74" y="138.22" width="7.64" height="9.03" fill="#e0ecf3"/>
<rect x="138.08" y="138.22" width="7.64" height="9.03" fill="#e0ecf3"/>
<rect x="145.42" y="138.22" width="7.64" height="9.03" fill="#e7f0f4"/>
<rect x="152.76" y="138.22" width="7.64" height="9.03" fill="#e7f0f4"/>
<rect x="160.10" y="138.22" width="7.64" height="9.03" fill="#e7f0f4"/>
<rect x="167.44" y="138.22" width="7.64" height="9.03" fill="#eff3f6"/>
<rect x="174.78" y="138.22" width="7.64" height="9.03" fill="#eff3f6"/>
<rect x="182.12" y="138.22" width="7.64" height="9.03" fill="#d0e4f0"/>
<rect x="189.46" y="138.22" width="7.64" height="9.03" fill="#f7f7f7"/>
<rect x="196.80" y="138.22" width="7.64" height="9.03" fill="#d0e4f0"/>
<rect x="204.14" y="138.22" width="7.64" height="9.03" fill="#e0ecf3"/>
<rect x="211.48" y="138.22" width="7.64" height="9.03" fill="#e7f0f4"/>
<rect x="218.82" y="138.22" width="7.64" height="9.03" fill="#e7f0f4"/>
<rect x="226.16" y="138.22" width="7.64" height="9.03" fill="#eef3f5"/>
<rect x="233.50" y="138.22" width="7.64" height="9.03" fill="#eef3f5"/>
<rect x="240.84" y="138.22" width="7.64" height="9.03" fill="#eef3f5"/>
<rect x="248.18" y="138.22" width="7.64" height="9.03" fill="#f3f5f6"/>
<rect x="255.52" y="138.22" width="7.64" height="9.03" fill="#c6dfed"/>
<rect x="262.86" y="138.22" width="7.64" height="9.03" fill="#eef3f5"/>
<rect x="270.20" y="138.22" width="7.64" height="9.03" fill="#e5eff4"/>
<rect x="277.54" y="138.22" width="7.64" height="9.03" fill="#c6dfed"/>
<rect x="287.70" y="138.22" width="7.61" height="9.03" fill="#f9ede5"/>
<rect x="295.01" y="138.22" width="7.61" height="9.03" fill="#f9ede5"/>
<rect x="302.32" y="138.22" width="7.61" height="9.03" fill="#f9ede5"/>
<rect x="309.63" y="138.22" width="7.61" height="9.03" fill="#eef3f5"/>
<rect x="316.94" y="138.22" width="7.61" height="9.03" fill="#f7f7f7"/>
<rect x="324.25" y="138.22" width="7.61" height="9.03" fill="#fae8dd"/>
<rect x="331.56" y="138.22" width="7.61" height="9.03" fill="#f9ede5"/>
<rect x="338.87" y="138.22" width="7.61" height="9.03" fill="#fbe2d4"/>
<rect x="346.18" y="138.22" width="7.61" height="9.03" fill="#fae8dd"/>
<rect x="353.49" y="138.22" width="7.61" height="9.03" fill="#f7f7f7"/>
<rect x="360.80" y="138.22" width="7.61" height="9.03" fill="#f7f7f7"/>
<rect x="368.11" y="138.22" width="7.61" height="9.03" fill="#fae8dd"/>
<rect x="375.42" y="138.22" width="7.61" height="9.03" fill="#dceaf2"/>
<rect x="382.73" y="138.22" width="7.61" height="9.03" fill="#fbe2d4"/>
<rect x="390.04" y="138.22" width="7.61" height="9.03" fill="#fae8dd"/>
<rect x="397.35" y="138.22" width="7.61" height="9.03" fill="#fae8dd"/>
<rect x="404.66" y="138.22" width="7.61" height="9.03" fill="#fae8dd"/>
<rect x="411.97" y="138.22" width="7.61" height="9.03" fill="#fae8dd"/>
<rect x="419.28" y="138.22" width="7.61" height="9.03" fill="#fae8dd"/>
<rect x="426.59" y="138.22" width="7.61" height="9.03" fill="#ee9777"/>
<rect x="433.90" y="138.22" width="7.61" height="9.03" fill="#f3f5f6"/>
<rect x="441.21" y="138.22" width="7.61" height="9.03" fill="#f3f5f6"/>
<rect x="448.52" y="138.22" width="7.61" height="9.03" fill="#f9c2a7"/>
<rect x="455.83" y="138.22" width="7.61" height="9.03" fill="#e5eff4"/>
<rect x="463.14" y="138.22" width="7.61" height="9.03" fill="#fae8dd"/>
<rect x="470.45" y="138.22" width="7.61" height="9.03" fill="#f7b89a"/>
<rect x="477.76" y="138.22" width="7.61" height="9.03" fill="#e37e64"/>
<rect x="485.07" y="138.22" width="7.61" height="9.03" fill="#cb4a43"/>
<rect x="492.38" y="138.22" width="7.61" height="9.03" fill="#dd715a"/>
<rect x="499.69" y="138.22" width="7.61" height="9.03" fill="#780522"/>
<rect x="50.00" y="146.95" width="7.64" height="9.03" fill="#9ccae1"/>
<rect x="57.34" y="146.95" width="7.64" height="9.03" fill="#8fc3dd"/>
<rect x="64.68" y="146.95" width="7.64" height="9.03" fill="#6fafd2"/>
<rect x="72.02" y="146.95" width="7.64" height="9.03" fill="#7fb9d7"/>
<rect x="79.36" y="146.95" width="7.64" height="9.03" fill="#a9d1e5"/>
<rect x="86.70" y="146.95" width="7.64" height="9.03" fill="#6fafd2"/>
<rect x="94.04" y="146.95" width="7.64" height="9.03" fill="#9ccae1"/>
<rect x="101.38" y="146.95" width="7.64" height="9.03" fill="#9ccae1"/>
<rect x="108.72" y="146.95" width="7.64" height="9.03" fill="#9ccae1"/>
<rect x="116.06" y="146.95" width="7.64" height="9.03" fill="#9ccae1"/>
<rect x="123.40" y="146.95" width="7.64" height="9.03" fill="#7fb9d7"/>
<rect x="130.74" y="146.95" width="7.64" height="9.03" fill="#5ea4cc"/>
<rect x="138.08" y="146.95" width="7.64" height="9.03" fill="#3a87bd"/>
<rect x="145.42" y="146.95" width="7.64" height="9.03" fill="#e7f0f4"/>
<rect x="152.76" y="146.95" width="7.64" height="9.03" fill="#b6d7e8"/>
<rect x="160.10" y="146.95" width="7.64" height="9.03" fill="#b6d7e8"/>
<rect x="167.44" y="146.95" width="7.64" height="9.03" fill="#a9d1e5"/>
<rect x="174.78" y="146.95" width="7.64" height="9.03" fill="#e7f0f4"/>
<rect x="182.12" y="146.95" width="7.64" height="9.03" fill="#d0e4f0"/>
<rect x="189.46" y="146.95" width="7.64" height="9.03" fill="#d8e8f1"/>
<rect x="196.80" y="146.95" width="7.64" height="9.03" fill="#eff3f6"/>
<rect x="204.14" y="146.95" width="7.64" height="9.03" fill="#d8e8f1"/>
<rect x="211.48" y="146.95" width="7.64" height="9.03" fill="#e7f0f4"/>
<rect x="218.82" y="146.95" width="7.64" height="9.03" fill="#b6d7e8"/>
<rect x="226.16" y="146.95" width="7.64" height="9.03" fill="#c6dfed"/>
<rect x="233.50" y="146.95" width="7.64" height="9.03" fill="#d3e6f0"/>
<rect x="240.84" y="146.95" width="7.64" height="9.03" fill="#dceaf2"/>
<rect x="248.18" y="146.95" width="7.64" height="9.03" fill="#529cc8"/>
<rect x="255.52" y="146.95" width="7.64" height="9.03" fill="#f7f7f7"/>
<rect x="262.86" y="146.95" width="7.64" height="9.03" fill="#f3f5f6"/>
<rect x="270.20" y="146.95" width="7.64" height="9.03" fill="#f9ede5"/>
<rect x="277.54" y="146.95" width="7.64" height="9.03" fill="#eef3f5"/>
<rect x="287.70" y="146.95" width="7.61" height="9.03" fill="#f9c2a7"/>
<rect x="295.01" y="146.95" width="7.61" height="9.03" fill="#f9c2a7"/>
<rect x="302.32" y="146.95" width="7.61" height="9.03" fill="#faccb3"/>
<rect x="309.63" y="146.95" width="7.61" height="9.03" fill="#faccb3"/>
<rect x="316.94" y="146.95" width="7.61" height="9.03" fill="#f5ae8d"/>
<rect x="324.25" y="146.95" width="7.61" height="9.03" fill="#e37e64"/>
<rect x="331.56" y="146.95" width="7.61" height="9.03" fill="#fbe2d4"/>
<rect x="338.87" y="146.95" width="7.61" height="9.03" fill="#f3f5f6"/>
<rect x="346.18" y="146.95" width="7.61" height="9.03" fill="#f8f4f3"/>
<rect x="353.49" y="146.95" width="7.61" height="9.03" fill="#fae8dd"/>
<rect x="360.80" y="146.95" width="7.61" height="9.03" fill="#fae8dd"/>
<rect x="368.11" y="146.95" width="7.61" height="9.03" fill="#fdddcb"/>
<rect x="375.42" y="146.95" width="7.61" height="9.03" fill="#d25749"/>
<rect x="382.73" y="146.95" width="7.61" height="9.03" fill="#e88a6d"/>
<rect x="390.04" y="146.95" width="7.61" height="9.03" fill="#dd715a"/>
<rect x="397.35" y="146.95" width="7.61" height="9.03" fill="#f9c2a7"/>
<rect x="404.66" y="146.95" width="7.61" height="9.03" fill="#fbd1ba"/>
<rect x="411.97" y="146.95" width="7.61" height="9.03" fill="#fddac6"/>
<rect x="419.28" y="146.95" width="7.61" height="9.03" fill="#fddac6"/>
<rect x="426.59" y="146.95" width="7.61" height="9.03" fill="#fddac6"/>
<rect x="433.90" y="146.95" width="7.61" height="9.03" fill="#fdddcb"/>
<rect x="441.21" y="146.95" width="7.61" height="9.03" fill="#fdddcb"/>
<rect x="448.52" y="146.95" width="7.61" height="9.03" fill="#faeae1"/>
<rect x="455.83" y="146.95" width="7.61" height="9.03" fill="#eef3f5"/>
<rect x="463.14" y="146.95" width="7.61" height="9.03" fill="#f7f7f7"/>
<rect x="470.45" y="146.95" width="7.61" height="9.03" fill="#e5eff4"/>
<rect x="477.76" y="146.95" width="7.61" height="9.03" fill="#e5eff4"/>
<rect x="485.07" y="146.95" width="7.61" height="9.03" fill="#f8f2ee"/>
<rect x="492.38" y="146.95" width="7.61" height="9.03" fill="#fdddcb"/>
<rect x="499.69" y="146.95" width="7.61" height="9.03" fill="#f3f5f6"/>
<rect x="50.00" y="155.68" width="7.64" height="9.03" fill="#8fc3dd"/>
<rect x="57.34" y="155.68" width="7.64" height="9.03" fill="#9ccae1"/>
<rect x="64.68" y="155.68" width="7.64" height="9.03" fill="#9ccae1"/>
<rect x="72.02" y="155.68" width="7.64" height="9.03" fill="#9ccae1"/>
<rect x="79.36" y="155.68" width="7.64" height="9.03" fill="#b6d7e8"/>
<rect x="86.70" y="155.68" width="7.64" height="9.03" fill="#8fc3dd"/>
<rect x="94.04" y="155.68" width="7.64" height="9.03" fill="#8fc3dd"/>
<rect x="101.38" y="155.68" width="7.64" height="9.03" fill="#8fc3dd"/>
<rect x="108.72" y="155.68" width="7.64" height="9.03" fill="#b6d7e8"/>
<rect x="116.06" y="155.68" width="7.64" height="9.03" fill="#b6d7e8"/>
<rect x="123.40" y="155.68" width="7.64" height="9.03" fill="#a9d1e5"/>
<rect x="130.74" y="155.68" width="7.64" height="9.03" fill="#b6d7e8"/>
<rect x="138.08" y="155.68" width="7.64" height="9.03" fill="#e0ecf3"/>
<rect x="145.42" y="155.68" width="7.64" height="9.03" fill="#d0e4f0"/>
<rect x="152.76" y="155.68" width="7.64" height="9.03" fill="#d0e4f0"/>
<rect x="160.10" y="155.68" width="7.64" height="9.03" fill="#c3deec"/>
<rect x="167.44" y="155.68" width="7.64" height="9.03" fill="#c3deec"/>
<rect x="174.78" y="155.68" width="7.64" height="9.03" fill="#e0ecf3"/>
<rect x="182.12" y="155.68" width="7.64" height="9.03" fill="#9ccae1"/>
<rect x="189.46" y="155.68" width="7.64" height="9.03" fill="#e0ecf3"/>
<rect x="196.80" y="155.68" width="7.64" height="9.03" fill="#e0ecf3"/>
<rect x="204.14" y="155.68" width="7.64" height="9.03" fill="#e0ecf3"/>
<rect x="211.48" y="155.68" width="7.64" height="9.03" fill="#d0e4f0"/>
<rect x="218.82" y="155.68" width="7.64" height="9.03" fill="#d8e8f1"/>
<rect x="226.16" y="155.68" width="7.64" height="9.03" fill="#dceaf2"/>
<rect x="233.50" y="155.68" width="7.64" height="9.03" fill="#eef3f5"/>
<rect x="240.84" y="155.68" width="7.64" height="9.03" fill="#b7d8e9"/>
<rect x="248.18" y="155.68" width="7.64" height="9.03" fill="#e5eff4"/>
<rect x="255.52" y="155.68" width="7.64" height="9.03" fill="#f7f7f7"/>
<rect x="262.86" y="155.68" width="7.64" height="9.03" fill="#e5eff4"/>
<rect x="270.20" y="155.68" width="7.64" height="9.03" fill="#d3e6f0"/>
<rect x="277.54" y="155.68" width="7.64" height="9.03" fill="#e5eff4"/>
<rect x="287.70" y="155.68" width="7.61" height="9.03" fill="#fbe2d4"/>
<rect x="295.01" y="155.68" width="7.61" height="9.03" fill="#fdddcb"/>
<rect x="302.32" y="155.68" width="7.61" height="9.03" fill="#f5ae8d"/>
<rect x="309.63" y="155.68" width="7.61" height="9.03" fill="#f7b89a"/>
<rect x="316.94" y="155.68" width="7.61" height="9.03" fill="#f7b89a"/>
<rect x="324.25" y="155.68" width="7.61" height="9.03" fill="#fae8dd"/>
<rect x="331.56" y="155.68" width="7.61" height="9.03" fill="#fae8dd"/>
<rect x="338.87" y="155.68" width="7.61" height="9.03" fill="#fae8dd"/>
<rect x="346.18" y="155.68" width="7.61" height="9.03" fill="#f8f2ee"/>
<rect x="353.49" y="155.68" width="7.61" height="9.03" fill="#fbe2d4"/>
<rect x="360.80" y="155.68" width="7.61" height="9.03" fill="#f9c2a7"/>
<rect x="368.11" y="155.68" width="7.61" height="9.03" fill="#fae8dd"/>
<rect x="375.42" y="155.68" width="7.61" height="9.03" fill="#f7b89a"/>
<rect x="382.73" y="155.68" width="7.61" height="9.03" fill="#f7b89a"/>
<rect x="390.04" y="155.68" width="7.61" height="9.03" fill="#f3a481"/>
<rect x="397.35" y="155.68" width="7.61" height="9.03" fill="#fae8dd"/>
<rect x="404.66" y="155.68" width="7.61" height="9.03" fill="#fdddcb"/>
<rect x="411.97" y="155.68" width="7.61" height="9.03" fill="#fae8dd"/>
<rect x="419.28" y="155.68" width="7.61" height="9.03" fill="#f9ede5"/>
<rect x="426.59" y="155.68" width="7.61" height="9.03" fill="#fcd5c0"/>
<rect x="433.90" y="155.68" width="7.61" height="9.03" fill="#fae8dd"/>
<rect x="441.21" y="155.68" width="7.61" height="9.03" fill="#fcd5c0"/>
<rect x="448.52" y="155.68" width="7.61" height="9.03" fill="#eef3f5"/>
<rect x="455.83" y="155.68" width="7.61" height="9.03" fill="#f8f2ee"/>
<rect x="463.14" y="155.68" width="7.61" height="9.03" fill="#e5eff4"/>
<rect x="470.45" y="155.68" width="7.61" height="9.03" fill="#f9ede5"/>
<rect x="477.76" y="155.68" width="7.61" height="9.03" fill="#f9ede5"/>
<rect x="485.07" y="155.68" width="7.61" height="9.03" fill="#f9ede5"/>
<rect x="492.38" y="155.68" width="7.61" height="9.03" fill="#fcd5c0"/>
<rect x="499.69" y="155.68" width="7.61" height="9.03" fill="#e37e64"/>
</g>
<g font-family='"Liberation Sans", sans-serif' font-size="7.0" fill="#222">
<text transform="translate(57.27,58.0) rotate(-90) scale(0.9,1)">HIST1H2AG</text>
<text transform="translate(64.61,58.0) rotate(-90) scale(0.9,1)">HIST2H2AA4</text>
<text transform="translate(71.95,58.0) rotate(-90) scale(0.9,1)">HIST3H2BB</text>
<text transform="translate(79.29,58.0) rotate(-90) scale(0.9,1)">HIST1H2AJ</text>
<text transform="translate(86.63,58.0) rotate(-90) scale(0.9,1)">HIST2H2BF</text>
<text transform="translate(93.97,58.0) rotate(-90) scale(0.9,1)">HIST1H2AB</text>
<text transform="translate(101.31,58.0) rotate(-90) scale(0.9,1)">HIST1H4A</text>
<text transform="translate(108.65,58.0) rotate(-90) scale(0.9,1)">HIST1H4I</text>
<text transform="translate(115.99,58.0) rotate(-90) scale(0.9,1)">HIST1H2BJ</text>
<text transform="translate(123.33,58.0) rotate(-90) scale(0.9,1)">SPC24</text>
<text transform="translate(130.67,58.0) rotate(-90) scale(0.9,1)">HIST1H2AI</text>
<text transform="translate(138.01,58.0) rotate(-90) scale(0.9,1)">HIST1H3F</text>
<text transform="translate(145.35,58.0) rotate(-90) scale(0.9,1)">NT5DC2</text>
<text transform="translate(152.69,58.0) rotate(-90) scale(0.9,1)">HIST2H2BE</text>
<text transform="translate(160.03,58.0) rotate(-90) scale(0.9,1)">HIST1H3H</text>
<text transform="translate(167.37,58.0) rotate(-90) scale(0.9,1)">HIST1H2BK</text>
<text transform="translate(174.71,58.0) rotate(-90) scale(0.9,1)">ACOT7</text>
<text transform="translate(182.05,58.0) rotate(-90) scale(0.9,1)">ALOX5AP</text>
<text transform="translate(189.39,58.0) rotate(-90) scale(0.9,1)">CXCR3</text>
<text transform="translate(196.73,58.0) rotate(-90) scale(0.9,1)">C12orf75</text>
<text transform="translate(204.07,58.0) rotate(-90) scale(0.9,1)">F2R</text>
<text transform="translate(211.41,58.0) rotate(-90) scale(0.9,1)">HIST3H2A</text>
<text transform="translate(218.75,58.0) rotate(-90) scale(0.9,1)">RF00024</text>
<text transform="translate(226.09,58.0) rotate(-90) scale(0.9,1)">ACTN4</text>
<text transform="translate(233.43,58.0) rotate(-90) scale(0.9,1)">AC109326.1</text>
<text transform="translate(240.77,58.0) rotate(-90) scale(0.9,1)">ADAM22</text>
<text transform="translate(248.11,58.0) rotate(-90) scale(0.9,1)">TBX21</text>
<text transform="translate(255.45,58.0) rotate(-90) scale(0.9,1)">LGALS1</text>
<text transform="translate(262.79,58.0) rotate(-90) scale(0.9,1)">PLEKHF1</text>
<text transform="translate(270.13,58.0) rotate(-90) scale(0.9,1)">AP000812.5</text>
<text transform="translate(277.47,58.0) rotate(-90) scale(0.9,1)">DIXDC1</text>
<text transform="translate(284.81,58.0) rotate(-90) scale(0.9,1)">NXPH4</text>
<text transform="translate(294.95,58.0) rotate(-90) scale(0.9,1)">LGALS4</text>
<text transform="translate(302.26,58.0) rotate(-90) scale(0.9,1)">KIAA1147</text>
<text transform="translate(309.57,58.0) rotate(-90) scale(0.9,1)">WWC2</text>
<text transform="translate(316.88,58.0) rotate(-90) scale(0.9,1)">SYDE2</text>
<text transform="translate(324.19,58.0) rotate(-90) scale(0.9,1)">TMEM308</text>
<text transform="translate(331.50,58.0) rotate(-90) scale(0.9,1)">CUBN</text>
<text transform="translate(338.81,58.0) rotate(-90) scale(0.9,1)">CNST</text>
<text transform="translate(346.12,58.0) rotate(-90) scale(0.9,1)">ARPIN</text>
<text transform="translate(353.44,58.0) rotate(-90) scale(0.9,1)">NPR2</text>
<text transform="translate(360.75,58.0) rotate(-90) scale(0.9,1)">IER3</text>
<text transform="translate(368.05,58.0) rotate(-90) scale(0.9,1)">TMEM25</text>
<text transform="translate(375.37,58.0) rotate(-90) scale(0.9,1)">MAN2C1</text>
<text transform="translate(382.67,58.0) rotate(-90) scale(0.9,1)">MID2</text>
<text transform="translate(389.99,58.0) rotate(-90) scale(0.9,1)">MALAT1</text>
<text transform="translate(397.29,58.0) rotate(-90) scale(0.9,1)">AC090616.6</text>
<text transform="translate(404.60,58.0) rotate(-90) scale(0.9,1)">HSF4</text>
<text transform="translate(411.91,58.0) rotate(-90) scale(0.9,1)">AC004890.2</text>
<text transform="translate(419.22,58.0) rotate(-90) scale(0.9,1)">ANO9</text>
<text transform="translate(426.53,58.0) rotate(-90) scale(0.9,1)">PWAR6</text>
<text transform="translate(433.84,58.0) rotate(-90) scale(0.9,1)">AC092683.1</text>
<text transform="translate(441.15,58.0) rotate(-90) scale(0.9,1)">EPHX2</text>
<text transform="translate(448.46,58.0) rotate(-90) scale(0.9,1)">TCEA3</text>
<text transform="translate(455.77,58.0) rotate(-90) scale(0.9,1)">BCL2</text>
<text transform="translate(463.08,58.0) rotate(-90) scale(0.9,1)">LAMB2</text>
<text transform="translate(470.39,58.0) rotate(-90) scale(0.9,1)">AC020951.1</text>
<text transform="translate(477.70,58.0) rotate(-90) scale(0.9,1)">MX1</text>
<text transform="translate(485.01,58.0) rotate(-90) scale(0.9,1)">STAB1</text>
<text transform="translate(492.32,58.0) rotate(-90) scale(0.9,1)">LILRA5</text>
<text transform="translate(499.63,58.0) rotate(-90) scale(0.9,1)">C5AR1</text>
<text transform="translate(506.94,58.0) rotate(-90) scale(0.9,1)">MAFB</text>
</g>
<rect x="44.6" y="59.8" width="3.5" height="52.4" fill="#f88a83"/>
<rect x="44.6" y="112.2" width="3.5" height="52.4" fill="#20d5d8"/>
<path d="M43.80 72.79H32.90V81.51H43.80 M43.80 64.06H32.30V77.15H32.90 M43.80 90.24H33.30V98.96H43.80 M43.80 116.41H33.40V125.14H43.80 M33.3 94.60H30.4V120.78H33.4 M30.40 107.69L43.80 107.69 M32.30 70.61H23.70V104.70H30.40 M43.80 133.86H28.60V142.59H43.80 M43.80 151.31H34.30V160.04H43.80 M28.60 138.23H26.60V155.68H34.30 M23.70 87.70H9.00V146.95H26.60" fill="none" stroke="#555" stroke-width="0.9"/>
<defs><linearGradient id="cb" x1="0" x2="1" y1="0" y2="0">
<stop offset="0.00" stop-color="#053061"/>
<stop offset="0.10" stop-color="#2166ac"/>
<stop offset="0.20" stop-color="#4393c3"/>
<stop offset="0.30" stop-color="#92c5de"/>
<stop offset="0.40" stop-color="#d1e5f0"/>
<stop offset="0.50" stop-color="#f7f7f7"/>
<stop offset="0.60" stop-color="#fddbc7"/>
<stop offset="0.70" stop-color="#f4a582"/>
<stop offset="0.80" stop-color="#d6604d"/>
<stop offset="0.90" stop-color="#b2182b"/>
<stop offset="1.00" stop-color="#67001f"/>
</linearGradient></defs>
<rect x="44.6" y="181.8" width="83.9" height="5.4" fill="url(#cb)"/>
<g font-family='"Liberation Sans", sans-serif' font-size="8.6" fill="#222" text-anchor="middle">
<text x="51.2" y="197.5">−2</text>
<text x="68.5" y="197.5">−1</text>
<text x="86.8" y="197.5">0</text>
<text x="104" y="197.5">1</text>
<text x="120.5" y="197.5">2</text>
</g>
<rect x="62.4" y="203.2" width="8.9" height="8.7" fill="#0ae4e8"/>
<rect x="62.4" y="219" width="8.9" height="8.5" fill="#f57f85"/>
<g font-family='"Liberation Sans", sans-serif' font-size="8.6" fill="#222">
<text x="74" y="211.2" textLength="33.2" lengthAdjust="spacingAndGlyphs">No GVHD</text>
<text x="74" y="227.2" textLength="20.5" lengthAdjust="spacingAndGlyphs">GVHD</text>
</g>
<path d="M53.67 164.40V165.40H61.01V164.40 M75.69 164.40V165.00H83.03V164.40 M68.35 164.40V166.00H79.36V165.00 M57.34 165.40V167.80H73.86V166.00 M90.37 164.40V165.60H97.71V164.40 M94.04 165.60V167.00H105.05V164.40 M65.60 167.80V169.00H99.54V167.00 M112.39 164.40V165.80H119.73V164.40 M82.57 169.00V170.20H116.06V165.80 M127.07 164.40V165.50H134.41V164.40 M141.75 164.40V166.20H149.09V164.40 M130.74 165.50V168.50H145.42V166.20 M99.32 170.20V172.00H138.08V168.50 M156.43 164.40V165.50H163.77V164.40 M171.11 164.40V167.00H178.45V164.40 M160.10 165.50V169.00H174.78V167.00 M193.13 164.40V165.50H200.47V164.40 M185.79 164.40V167.50H196.80V165.50 M167.44 169.00V171.00H191.30V167.50 M207.81 164.40V166.00H215.15V164.40 M222.49 164.40V166.80H229.83V164.40 M211.48 166.00V170.00H226.16V166.80 M179.37 171.00V173.60H218.82V170.00 M118.70 172.00V176.50H199.09V173.60 M237.17 164.40V166.50H244.51V164.40 M240.84 166.50V168.00H251.85V164.40 M259.19 164.40V165.80H266.53V164.40 M273.87 164.40V166.50H281.21V164.40 M262.86 165.80V169.50H277.54V166.50 M246.34 168.00V176.80H270.20V169.50 M158.90 176.50V183.20H258.27V176.80 M291.35 164.40V168.60H298.66V164.40 M295.01 168.60V170.30H305.97V164.40 M313.28 164.40V168.90H320.59V164.40 M316.94 168.90V171.50H327.90V164.40 M300.49 170.30V172.70H322.42V171.50 M335.21 164.40V168.90H342.52V164.40 M349.83 164.40V168.90H357.14V164.40 M338.87 168.90V171.50H353.49V168.90 M364.45 164.40V168.00H371.76V164.40 M346.18 171.50V173.00H368.11V168.00 M311.46 172.70V175.00H357.14V173.00 M334.30 175.00V177.40H379.07V164.40 M386.38 164.40V171.10H393.69V164.40 M356.69 177.40V179.50H390.04V171.10 M401.00 164.40V168.90H408.31V164.40 M415.62 164.40V168.90H422.93V164.40 M404.66 168.90V171.20H419.28V168.90 M411.97 171.20V173.10H430.24V164.40 M437.55 164.40V168.90H444.86V164.40 M421.11 173.10V176.60H441.21V168.90 M431.16 176.60V179.70H452.17V164.40 M459.48 164.40V172.00H466.79V164.40 M463.14 172.00V175.80H474.10V164.40 M441.67 179.70V181.70H468.62V175.80 M373.36 179.50V184.80H455.14V181.70 M481.41 164.40V173.70H488.72V164.40 M496.03 164.40V173.70H503.34V164.40 M485.07 173.70V179.50H499.69V173.70 M414.25 184.80V188.30H492.38V179.50 M208.58 183.20V198.90H453.32V188.30" fill="none" stroke="#555" stroke-width="0.85"/>
<rect x="181.6" y="22.6" width="7.6" height="168.6" fill="none" stroke="#111" stroke-width="1.1"/>
<rect x="240.9" y="22.6" width="7.8" height="168.6" fill="none" stroke="#111" stroke-width="1.1"/>
<path d="M150.3 213.9L181.6 191.2H248.7L372.7 212.9" fill="none" stroke="#d02a2a" stroke-width="1.1"/>
<g shape-rendering="crispEdges">
<rect x="153.70" y="215.00" width="14.71" height="11" fill="#9ccae1"/>
<rect x="168.11" y="215.00" width="14.71" height="11" fill="#c3deec"/>
<rect x="182.52" y="215.00" width="14.71" height="11" fill="#c3deec"/>
<rect x="196.93" y="215.00" width="14.71" height="11" fill="#a9d1e5"/>
<rect x="211.34" y="215.00" width="14.71" height="11" fill="#f3f5f6"/>
<rect x="225.75" y="215.00" width="14.71" height="11" fill="#f9ece3"/>
<rect x="240.16" y="215.00" width="14.71" height="11" fill="#f9ece3"/>
<rect x="254.57" y="215.00" width="14.71" height="11" fill="#fce0d0"/>
<rect x="268.98" y="215.00" width="14.71" height="11" fill="#fddac6"/>
<rect x="283.39" y="215.00" width="14.71" height="11" fill="#fddac6"/>
<rect x="297.80" y="215.00" width="14.71" height="11" fill="#fdddcb"/>
<rect x="312.21" y="215.00" width="14.71" height="11" fill="#fddac6"/>
<rect x="153.70" y="225.75" width="14.71" height="11" fill="#a9d1e5"/>
<rect x="168.11" y="225.75" width="14.71" height="11" fill="#d0e4f0"/>
<rect x="182.52" y="225.75" width="14.71" height="11" fill="#e7f0f4"/>
<rect x="196.93" y="225.75" width="14.71" height="11" fill="#d4e6f1"/>
<rect x="211.34" y="225.75" width="14.71" height="11" fill="#e7f0f4"/>
<rect x="225.75" y="225.75" width="14.71" height="11" fill="#eff3f6"/>
<rect x="240.16" y="225.75" width="14.71" height="11" fill="#ebf1f5"/>
<rect x="254.57" y="225.75" width="14.71" height="11" fill="#ed9475"/>
<rect x="268.98" y="225.75" width="14.71" height="11" fill="#f7f7f7"/>
<rect x="283.39" y="225.75" width="14.71" height="11" fill="#ed9475"/>
<rect x="297.80" y="225.75" width="14.71" height="11" fill="#eff3f6"/>
<rect x="312.21" y="225.75" width="14.71" height="11" fill="#fae9df"/>
</g>
<rect x="153.7" y="238.9" width="86.5" height="14.1" fill="#0ae4e8"/>
<rect x="240.2" y="238.9" width="86.4" height="14.1" fill="#f5787e"/>
<g font-family='"Liberation Sans", sans-serif' font-size="9.6" fill="#1a1a1a" text-anchor="middle">
<text x="196.95" y="249.6" textLength="41.9" lengthAdjust="spacingAndGlyphs">No GVHD</text>
<text x="283.4" y="249.6" textLength="26.5" lengthAdjust="spacingAndGlyphs">GVHD</text>
</g>
<g font-family='"Liberation Sans", sans-serif' font-size="9.6" font-style="italic" fill="#1a1a1a">
<text x="330.4" y="223.5" textLength="29.6" lengthAdjust="spacingAndGlyphs">CXCR3</text>
<text x="330.8" y="234.7" textLength="26.4" lengthAdjust="spacingAndGlyphs">TBX21</text>
</g>
<text x="7" y="15" font-family='"Liberation Sans", sans-serif' font-size="11" font-weight="bold" fill="#000">A</text>
<text x="7.2" y="295.7" font-family='"Liberation Sans", sans-serif' font-size="11.4" font-weight="bold" fill="#000">B</text>
<text x="173.95" y="305.6" font-family='"Liberation Sans", sans-serif' font-size="9.9" text-anchor="middle" fill="#1a1a1a" textLength="30.3" lengthAdjust="spacingAndGlyphs">CXCR3</text>
<text x="273.75" y="305.3" font-family='"Liberation Sans", sans-serif' font-size="9.9" text-anchor="middle" fill="#1a1a1a" textLength="53.9" lengthAdjust="spacingAndGlyphs">CD146CCR5</text>
<text x="377.75" y="294.3" font-family='"Liberation Sans", sans-serif' font-size="9.9" text-anchor="middle" fill="#1a1a1a" textLength="40.1" lengthAdjust="spacingAndGlyphs">CXCR3 in</text>
<text x="377.95" y="305.7" font-family='"Liberation Sans", sans-serif' font-size="9.9" text-anchor="middle" fill="#1a1a1a" textLength="53.7" lengthAdjust="spacingAndGlyphs">CD146CCR5</text>
<text x="113.6" y="340.6" font-family='"Liberation Sans", sans-serif' font-size="10.6" text-anchor="middle" fill="#1a1a1a" textLength="42.2" lengthAdjust="spacingAndGlyphs">No GVHD</text>
<text x="119.25" y="400.6" font-family='"Liberation Sans", sans-serif' font-size="10.6" text-anchor="middle" fill="#1a1a1a" textLength="31.5" lengthAdjust="spacingAndGlyphs">aGVHD</text>
<text x="119.55" y="411.4" font-family='"Liberation Sans", sans-serif' font-size="10.6" text-anchor="middle" fill="#1a1a1a" textLength="30.9" lengthAdjust="spacingAndGlyphs">(day30)</text>
<defs><radialGradient id="blob"><stop offset="0" stop-color="#000"/><stop offset="0.55" stop-color="#111"/><stop offset="0.8" stop-color="#444"/><stop offset="1" stop-color="#999" stop-opacity="0"/></radialGradient><radialGradient id="blob2"><stop offset="0" stop-color="#222"/><stop offset="0.6" stop-color="#333"/><stop offset="0.85" stop-color="#777"/><stop offset="1" stop-color="#aaa" stop-opacity="0"/></radialGradient><radialGradient id="soft"><stop offset="0" stop-color="#111"/><stop offset="0.55" stop-color="#222"/><stop offset="0.8" stop-color="#777"/><stop offset="1" stop-color="#ccc" stop-opacity="0"/></radialGradient><radialGradient id="ring" cx="0.55" cy="0.5"><stop offset="0" stop-color="#555"/><stop offset="0.3" stop-color="#2a2a2a"/><stop offset="0.55" stop-color="#555"/><stop offset="0.8" stop-color="#999"/><stop offset="1" stop-color="#ddd" stop-opacity="0.3"/></radialGradient><radialGradient id="soft2"><stop offset="0" stop-color="#222"/><stop offset="0.45" stop-color="#333"/><stop offset="0.75" stop-color="#777"/><stop offset="1" stop-color="#ccc" stop-opacity="0"/></radialGradient></defs>
<rect x="148.3" y="310.6" width="53.90" height="52.80" fill="none" stroke="#111" stroke-width="1.2"/>
<path d="M146.80 319.40H148.30 M157.28 363.40V364.90 M146.80 328.20H148.30 M166.27 363.40V364.90 M146.80 337.00H148.30 M175.25 363.40V364.90 M146.80 345.80H148.30 M184.23 363.40V364.90 M146.80 354.60H148.30 M193.22 363.40V364.90" stroke="#333" stroke-width="0.6"/>
<text x="175.25" y="368.00" font-family='"Liberation Sans", sans-serif' font-size="4.0" font-weight="bold" text-anchor="middle" fill="#000">CD4</text>
<text transform="translate(145.90,337.00) rotate(-90)" font-family='"Liberation Sans", sans-serif' font-size="4.0" font-weight="bold" text-anchor="middle" fill="#000">CXCR3</text>
<rect x="169" y="329.1" width="19.7" height="19.4" fill="none" stroke="#666" stroke-width="0.8"/>
<g fill="#999"><circle cx="173.6" cy="347.0" r="0.35"/><circle cx="180.7" cy="344.6" r="0.35"/><circle cx="173.3" cy="345.8" r="0.35"/><circle cx="179.0" cy="349.0" r="0.35"/><circle cx="173.6" cy="342.5" r="0.35"/><circle cx="179.7" cy="347.3" r="0.35"/><circle cx="182.4" cy="348.7" r="0.35"/><circle cx="177.2" cy="345.3" r="0.35"/><circle cx="185.7" cy="345.2" r="0.35"/><circle cx="175.0" cy="342.9" r="0.35"/><circle cx="177.8" cy="346.4" r="0.35"/><circle cx="176.4" cy="345.8" r="0.35"/><circle cx="178.4" cy="347.9" r="0.35"/><circle cx="181.0" cy="346.6" r="0.35"/><circle cx="171.8" cy="347.9" r="0.35"/><circle cx="173.0" cy="345.5" r="0.35"/><circle cx="172.8" cy="346.0" r="0.35"/><circle cx="175.0" cy="346.6" r="0.35"/><circle cx="188.0" cy="345.9" r="0.35"/><circle cx="180.2" cy="342.4" r="0.35"/><circle cx="176.6" cy="347.8" r="0.35"/><circle cx="177.2" cy="347.0" r="0.35"/><circle cx="177.8" cy="343.3" r="0.35"/><circle cx="179.3" cy="343.8" r="0.35"/><circle cx="183.5" cy="344.6" r="0.35"/><circle cx="179.7" cy="346.0" r="0.35"/><circle cx="180.5" cy="344.4" r="0.35"/><circle cx="180.7" cy="345.7" r="0.35"/><circle cx="181.5" cy="347.7" r="0.35"/><circle cx="177.9" cy="343.9" r="0.35"/><circle cx="179.9" cy="347.3" r="0.35"/><circle cx="182.7" cy="345.0" r="0.35"/><circle cx="179.3" cy="347.4" r="0.35"/><circle cx="178.4" cy="346.6" r="0.35"/><circle cx="178.1" cy="344.4" r="0.35"/><circle cx="174.3" cy="344.9" r="0.35"/><circle cx="179.4" cy="350.1" r="0.35"/><circle cx="180.6" cy="348.9" r="0.35"/><circle cx="180.0" cy="347.9" r="0.35"/><circle cx="178.1" cy="348.1" r="0.35"/><circle cx="183.1" cy="345.1" r="0.35"/><circle cx="175.3" cy="351.3" r="0.35"/><circle cx="178.3" cy="348.6" r="0.35"/><circle cx="180.3" cy="342.9" r="0.35"/><circle cx="185.2" cy="350.8" r="0.35"/></g>
<g fill="#999"><circle cx="182.8" cy="361.0" r="0.35"/><circle cx="174.4" cy="351.1" r="0.35"/><circle cx="180.6" cy="362.9" r="0.35"/><circle cx="180.8" cy="349.9" r="0.35"/><circle cx="174.5" cy="354.9" r="0.35"/><circle cx="183.8" cy="355.1" r="0.35"/><circle cx="176.7" cy="354.1" r="0.35"/><circle cx="179.6" cy="351.8" r="0.35"/><circle cx="178.7" cy="356.3" r="0.35"/><circle cx="187.4" cy="354.9" r="0.35"/><circle cx="183.8" cy="350.6" r="0.35"/><circle cx="183.3" cy="355.9" r="0.35"/><circle cx="175.8" cy="355.0" r="0.35"/><circle cx="183.5" cy="353.7" r="0.35"/><circle cx="184.2" cy="361.9" r="0.35"/><circle cx="187.4" cy="362.4" r="0.35"/><circle cx="171.9" cy="356.7" r="0.35"/><circle cx="175.0" cy="359.4" r="0.35"/><circle cx="179.1" cy="356.2" r="0.35"/><circle cx="181.2" cy="352.5" r="0.35"/><circle cx="179.2" cy="351.9" r="0.35"/><circle cx="189.8" cy="353.1" r="0.35"/><circle cx="178.8" cy="347.3" r="0.35"/><circle cx="170.8" cy="351.4" r="0.35"/><circle cx="183.0" cy="358.6" r="0.35"/><circle cx="180.2" cy="352.3" r="0.35"/><circle cx="188.6" cy="350.6" r="0.35"/><circle cx="174.1" cy="357.3" r="0.35"/><circle cx="173.4" cy="356.4" r="0.35"/><circle cx="183.9" cy="354.9" r="0.35"/><circle cx="180.9" cy="355.3" r="0.35"/><circle cx="175.1" cy="341.0" r="0.35"/><circle cx="172.2" cy="355.1" r="0.35"/><circle cx="169.9" cy="352.6" r="0.35"/><circle cx="179.8" cy="361.1" r="0.35"/><circle cx="171.4" cy="352.8" r="0.35"/><circle cx="179.9" cy="357.5" r="0.35"/><circle cx="171.3" cy="363.5" r="0.35"/><circle cx="174.3" cy="360.0" r="0.35"/><circle cx="177.6" cy="357.0" r="0.35"/></g>
<ellipse cx="178.3" cy="353.9" rx="7.2" ry="6.8" fill="url(#soft2)"/>
<ellipse cx="178.4" cy="354.4" rx="3.6" ry="3.3" fill="#101010"/>
<text x="173" y="320.3" font-family='"Liberation Sans", sans-serif' font-size="4.2" font-weight="bold" text-anchor="middle" fill="#000">0.05</text>
<rect x="148.3" y="376.5" width="53.70" height="52.10" fill="none" stroke="#111" stroke-width="1.2"/>
<path d="M146.80 385.18H148.30 M157.25 428.60V430.10 M146.80 393.87H148.30 M166.20 428.60V430.10 M146.80 402.55H148.30 M175.15 428.60V430.10 M146.80 411.23H148.30 M184.10 428.60V430.10 M146.80 419.92H148.30 M193.05 428.60V430.10" stroke="#333" stroke-width="0.6"/>
<text x="175.15" y="433.20" font-family='"Liberation Sans", sans-serif' font-size="4.0" font-weight="bold" text-anchor="middle" fill="#000">CD4</text>
<text transform="translate(145.90,402.55) rotate(-90)" font-family='"Liberation Sans", sans-serif' font-size="4.0" font-weight="bold" text-anchor="middle" fill="#000">CXCR3</text>
<rect x="169.2" y="395.4" width="19.5" height="19.0" fill="none" stroke="#666" stroke-width="0.8"/>
<g fill="#999"><circle cx="173.3" cy="414.3" r="0.35"/><circle cx="177.6" cy="410.4" r="0.35"/><circle cx="182.1" cy="413.4" r="0.35"/><circle cx="177.6" cy="422.8" r="0.35"/><circle cx="176.8" cy="406.1" r="0.35"/><circle cx="173.6" cy="410.1" r="0.35"/><circle cx="181.0" cy="417.6" r="0.35"/><circle cx="182.7" cy="423.1" r="0.35"/><circle cx="184.9" cy="416.6" r="0.35"/><circle cx="183.5" cy="416.8" r="0.35"/><circle cx="176.7" cy="417.7" r="0.35"/><circle cx="179.0" cy="412.1" r="0.35"/><circle cx="186.1" cy="417.5" r="0.35"/><circle cx="177.0" cy="412.9" r="0.35"/><circle cx="187.4" cy="411.9" r="0.35"/><circle cx="181.5" cy="416.7" r="0.35"/><circle cx="180.7" cy="416.5" r="0.35"/><circle cx="177.0" cy="410.7" r="0.35"/><circle cx="178.2" cy="411.3" r="0.35"/><circle cx="181.8" cy="421.8" r="0.35"/><circle cx="175.5" cy="416.3" r="0.35"/><circle cx="175.2" cy="409.5" r="0.35"/><circle cx="177.9" cy="413.9" r="0.35"/><circle cx="177.2" cy="398.9" r="0.35"/><circle cx="183.9" cy="411.8" r="0.35"/><circle cx="176.5" cy="417.1" r="0.35"/><circle cx="176.6" cy="405.4" r="0.35"/><circle cx="180.6" cy="415.6" r="0.35"/><circle cx="175.8" cy="417.9" r="0.35"/><circle cx="180.2" cy="407.0" r="0.35"/><circle cx="185.3" cy="414.8" r="0.35"/><circle cx="174.6" cy="415.8" r="0.35"/><circle cx="179.3" cy="418.7" r="0.35"/><circle cx="173.8" cy="419.1" r="0.35"/><circle cx="182.3" cy="417.1" r="0.35"/><circle cx="181.1" cy="420.6" r="0.35"/><circle cx="181.4" cy="414.0" r="0.35"/><circle cx="175.7" cy="419.4" r="0.35"/><circle cx="182.4" cy="414.9" r="0.35"/><circle cx="179.4" cy="417.3" r="0.35"/></g>
<ellipse cx="178.4" cy="414.2" rx="6.6" ry="11" fill="url(#soft2)"/>
<ellipse cx="178.6" cy="415" rx="3.3" ry="8.4" fill="#161616"/>
<ellipse cx="178.9" cy="416" rx="0.7" ry="2.6" fill="#999"/>
<text x="174.8" y="386.3" font-family='"Liberation Sans", sans-serif' font-size="4.2" font-weight="bold" text-anchor="middle" fill="#000">40</text>
<rect x="248.1" y="310.6" width="53.10" height="52.80" fill="none" stroke="#111" stroke-width="1.2"/>
<path d="M246.60 319.40H248.10 M256.95 363.40V364.90 M246.60 328.20H248.10 M265.80 363.40V364.90 M246.60 337.00H248.10 M274.65 363.40V364.90 M246.60 345.80H248.10 M283.50 363.40V364.90 M246.60 354.60H248.10 M292.35 363.40V364.90" stroke="#333" stroke-width="0.6"/>
<text x="274.65" y="368.00" font-family='"Liberation Sans", sans-serif' font-size="4.0" font-weight="bold" text-anchor="middle" fill="#000">CCR5</text>
<text transform="translate(245.70,337.00) rotate(-90)" font-family='"Liberation Sans", sans-serif' font-size="4.0" font-weight="bold" text-anchor="middle" fill="#000">CD146</text>
<g fill="#999"><circle cx="267.6" cy="346.2" r="0.35"/><circle cx="264.4" cy="332.7" r="0.35"/><circle cx="269.3" cy="342.7" r="0.35"/><circle cx="270.0" cy="342.3" r="0.35"/><circle cx="267.8" cy="337.8" r="0.35"/><circle cx="264.9" cy="339.4" r="0.35"/><circle cx="266.7" cy="344.2" r="0.35"/><circle cx="271.3" cy="335.2" r="0.35"/><circle cx="271.6" cy="340.3" r="0.35"/><circle cx="273.6" cy="346.6" r="0.35"/><circle cx="271.0" cy="333.1" r="0.35"/><circle cx="271.5" cy="334.0" r="0.35"/><circle cx="275.7" cy="337.7" r="0.35"/><circle cx="267.6" cy="348.0" r="0.35"/><circle cx="260.4" cy="340.6" r="0.35"/><circle cx="263.6" cy="338.3" r="0.35"/><circle cx="264.8" cy="343.3" r="0.35"/><circle cx="267.1" cy="341.9" r="0.35"/><circle cx="271.4" cy="333.4" r="0.35"/><circle cx="274.9" cy="339.4" r="0.35"/><circle cx="260.9" cy="337.7" r="0.35"/><circle cx="272.5" cy="344.6" r="0.35"/><circle cx="265.3" cy="340.9" r="0.35"/><circle cx="269.6" cy="344.8" r="0.35"/><circle cx="267.9" cy="344.5" r="0.35"/><circle cx="264.4" cy="337.5" r="0.35"/><circle cx="271.6" cy="343.5" r="0.35"/><circle cx="268.3" cy="343.0" r="0.35"/><circle cx="269.5" cy="343.7" r="0.35"/><circle cx="273.9" cy="342.6" r="0.35"/><circle cx="272.3" cy="338.8" r="0.35"/><circle cx="265.9" cy="330.7" r="0.35"/><circle cx="270.4" cy="340.6" r="0.35"/><circle cx="271.0" cy="332.7" r="0.35"/><circle cx="266.3" cy="338.1" r="0.35"/><circle cx="260.2" cy="344.3" r="0.35"/><circle cx="274.2" cy="335.2" r="0.35"/><circle cx="270.6" cy="347.7" r="0.35"/><circle cx="262.9" cy="344.6" r="0.35"/><circle cx="275.9" cy="348.3" r="0.35"/><circle cx="262.2" cy="336.0" r="0.35"/><circle cx="269.5" cy="345.5" r="0.35"/><circle cx="262.7" cy="337.3" r="0.35"/><circle cx="263.3" cy="345.1" r="0.35"/><circle cx="265.9" cy="342.9" r="0.35"/><circle cx="271.5" cy="345.3" r="0.35"/><circle cx="270.5" cy="341.9" r="0.35"/><circle cx="273.9" cy="342.5" r="0.35"/><circle cx="262.7" cy="338.2" r="0.35"/><circle cx="272.7" cy="341.1" r="0.35"/><circle cx="266.9" cy="341.5" r="0.35"/><circle cx="284.0" cy="340.3" r="0.35"/><circle cx="270.8" cy="342.4" r="0.35"/><circle cx="267.3" cy="345.5" r="0.35"/><circle cx="272.5" cy="342.2" r="0.35"/><circle cx="262.2" cy="345.8" r="0.35"/><circle cx="272.1" cy="340.1" r="0.35"/><circle cx="256.0" cy="340.2" r="0.35"/><circle cx="262.9" cy="339.5" r="0.35"/><circle cx="266.2" cy="337.0" r="0.35"/></g>
<path d="M260.6 310.6V363.4M248.1 340.2H301.2" stroke="#777" stroke-width="0.8"/>
<ellipse cx="264" cy="350.5" rx="8" ry="9.2" fill="none" stroke="#666" stroke-width="0.7"/>
<ellipse cx="269.5" cy="349.5" rx="11.5" ry="11" fill="url(#ring)"/>
<ellipse cx="269.5" cy="349.5" rx="11" ry="10.5" fill="none" stroke="#777" stroke-width="0.6"/>
<ellipse cx="271.3" cy="349.4" rx="4.6" ry="5" fill="none" stroke="#111" stroke-width="1.6" opacity="0.75"/>
<ellipse cx="271.3" cy="349.4" rx="1.1" ry="1.4" fill="#ccc"/>
<text x="250" y="315.2" font-family='"Liberation Sans", sans-serif' font-size="4.2" font-weight="bold" text-anchor="start" fill="#000">0.11</text>
<text x="299.5" y="315.2" font-family='"Liberation Sans", sans-serif' font-size="4.2" font-weight="bold" text-anchor="end" fill="#000">1.2</text>
<text x="250" y="362" font-family='"Liberation Sans", sans-serif' font-size="4.2" font-weight="bold" text-anchor="start" fill="#000">4.5</text>
<text x="299.5" y="362" font-family='"Liberation Sans", sans-serif' font-size="4.2" font-weight="bold" text-anchor="end" fill="#000">95</text>
<rect x="248.1" y="376.5" width="52.90" height="52.40" fill="none" stroke="#111" stroke-width="1.2"/>
<path d="M246.60 385.23H248.10 M256.92 428.90V430.40 M246.60 393.97H248.10 M265.73 428.90V430.40 M246.60 402.70H248.10 M274.55 428.90V430.40 M246.60 411.43H248.10 M283.37 428.90V430.40 M246.60 420.17H248.10 M292.18 428.90V430.40" stroke="#333" stroke-width="0.6"/>
<text x="274.55" y="433.50" font-family='"Liberation Sans", sans-serif' font-size="4.0" font-weight="bold" text-anchor="middle" fill="#000">CCR5</text>
<text transform="translate(245.70,402.70) rotate(-90)" font-family='"Liberation Sans", sans-serif' font-size="4.0" font-weight="bold" text-anchor="middle" fill="#000">CD146</text>
<g fill="#999"><circle cx="271.8" cy="402.4" r="0.35"/><circle cx="255.3" cy="389.2" r="0.35"/><circle cx="263.4" cy="401.5" r="0.35"/><circle cx="263.1" cy="391.4" r="0.35"/><circle cx="260.8" cy="404.5" r="0.35"/><circle cx="255.2" cy="402.8" r="0.35"/><circle cx="267.3" cy="400.2" r="0.35"/><circle cx="268.9" cy="395.5" r="0.35"/><circle cx="263.2" cy="406.2" r="0.35"/><circle cx="261.5" cy="396.1" r="0.35"/><circle cx="255.1" cy="395.9" r="0.35"/><circle cx="268.7" cy="403.7" r="0.35"/><circle cx="268.1" cy="400.9" r="0.35"/><circle cx="267.7" cy="399.5" r="0.35"/><circle cx="270.4" cy="397.4" r="0.35"/><circle cx="270.8" cy="397.7" r="0.35"/><circle cx="253.9" cy="392.2" r="0.35"/><circle cx="262.8" cy="396.0" r="0.35"/><circle cx="256.4" cy="394.6" r="0.35"/><circle cx="265.2" cy="399.8" r="0.35"/><circle cx="269.4" cy="394.1" r="0.35"/><circle cx="266.4" cy="402.7" r="0.35"/><circle cx="266.3" cy="406.0" r="0.35"/><circle cx="261.0" cy="398.0" r="0.35"/><circle cx="265.1" cy="396.2" r="0.35"/><circle cx="263.7" cy="399.1" r="0.35"/><circle cx="263.8" cy="395.8" r="0.35"/><circle cx="261.2" cy="397.7" r="0.35"/><circle cx="254.4" cy="398.8" r="0.35"/><circle cx="257.2" cy="396.9" r="0.35"/><circle cx="257.2" cy="398.5" r="0.35"/><circle cx="261.7" cy="396.9" r="0.35"/><circle cx="259.4" cy="398.5" r="0.35"/><circle cx="274.0" cy="390.0" r="0.35"/><circle cx="267.2" cy="399.0" r="0.35"/><circle cx="261.6" cy="392.3" r="0.35"/><circle cx="273.9" cy="398.9" r="0.35"/><circle cx="270.3" cy="396.4" r="0.35"/><circle cx="259.3" cy="402.8" r="0.35"/><circle cx="268.6" cy="396.7" r="0.35"/><circle cx="262.7" cy="400.8" r="0.35"/><circle cx="259.0" cy="394.3" r="0.35"/><circle cx="263.8" cy="402.5" r="0.35"/><circle cx="269.4" cy="398.9" r="0.35"/><circle cx="272.4" cy="397.4" r="0.35"/><circle cx="261.0" cy="408.4" r="0.35"/><circle cx="261.0" cy="400.7" r="0.35"/><circle cx="267.5" cy="398.6" r="0.35"/><circle cx="265.4" cy="401.1" r="0.35"/><circle cx="267.5" cy="395.4" r="0.35"/><circle cx="264.1" cy="404.2" r="0.35"/><circle cx="268.6" cy="396.1" r="0.35"/><circle cx="264.4" cy="393.7" r="0.35"/><circle cx="256.1" cy="395.7" r="0.35"/><circle cx="274.0" cy="395.3" r="0.35"/><circle cx="251.8" cy="397.6" r="0.35"/><circle cx="259.8" cy="401.3" r="0.35"/><circle cx="271.7" cy="396.6" r="0.35"/><circle cx="264.8" cy="394.1" r="0.35"/><circle cx="271.6" cy="394.8" r="0.35"/><circle cx="264.3" cy="408.6" r="0.35"/><circle cx="258.3" cy="398.8" r="0.35"/><circle cx="263.8" cy="400.1" r="0.35"/><circle cx="267.0" cy="404.6" r="0.35"/><circle cx="267.1" cy="400.7" r="0.35"/><circle cx="256.4" cy="399.9" r="0.35"/><circle cx="255.8" cy="403.4" r="0.35"/><circle cx="263.7" cy="402.4" r="0.35"/><circle cx="261.0" cy="399.1" r="0.35"/><circle cx="264.6" cy="400.5" r="0.35"/></g>
<path d="M252.5 407C251.5 398 252.5 390 256 389.3C259.5 389 260.5 392.5 261.5 393.5C264 390.5 270 390 274 391C277.5 393 277.5 400 276.8 407Z" fill="#dadada" stroke="#666" stroke-width="0.8"/>
<path d="M254.5 405C254 399 254.5 392.5 257 392.5C259.5 393 259.5 400 259 405M262 405C262.5 399 265.5 394.5 269 395.5C272.5 397 273.5 402 272.5 405M264.5 404C265.5 400.5 268 399.5 270 400.5M255.5 398C256.5 396 258 396 258 398M267 393.5C269 392.5 272 393 274 394.5" fill="none" stroke="#777" stroke-width="0.7"/>
<path d="M260.6 376.5V428.9M248.1 407H301" stroke="#777" stroke-width="0.8"/>
<rect x="251" y="406.8" width="27.8" height="17.2" rx="7.5" fill="#9a9a9a" stroke="#333" stroke-width="1.3"/>
<rect x="253.3" y="408.8" width="23.2" height="13.2" rx="5.5" fill="#8a8a8a" stroke="#555" stroke-width="0.8"/>
<rect x="256" y="411" width="18" height="9" rx="4" fill="none" stroke="#666" stroke-width="0.7"/>
<ellipse cx="268" cy="414.4" rx="4.8" ry="3.4" fill="#555" stroke="#151515" stroke-width="1.5"/>
<ellipse cx="268.5" cy="414.3" rx="1.6" ry="1.2" fill="#ddd"/>
<text x="250" y="380.9" font-family='"Liberation Sans", sans-serif' font-size="4.2" font-weight="bold" text-anchor="start" fill="#000">6.7</text>
<text x="299.5" y="380.9" font-family='"Liberation Sans", sans-serif' font-size="4.2" font-weight="bold" text-anchor="end" fill="#000">0</text>
<text x="250" y="427.6" font-family='"Liberation Sans", sans-serif' font-size="4.2" font-weight="bold" text-anchor="start" fill="#000">22</text>
<text x="299.5" y="427.6" font-family='"Liberation Sans", sans-serif' font-size="4.2" font-weight="bold" text-anchor="end" fill="#000">30</text>
<rect x="354.6" y="310.9" width="52.10" height="52.70" fill="none" stroke="#111" stroke-width="1.2"/>
<path d="M353.10 319.68H354.60 M363.28 363.60V365.10 M353.10 328.47H354.60 M371.97 363.60V365.10 M353.10 337.25H354.60 M380.65 363.60V365.10 M353.10 346.03H354.60 M389.33 363.60V365.10 M353.10 354.82H354.60 M398.02 363.60V365.10" stroke="#333" stroke-width="0.6"/>
<text x="380.65" y="368.20" font-family='"Liberation Sans", sans-serif' font-size="4.0" font-weight="bold" text-anchor="middle" fill="#000">CD4+CD146+CCR5+</text>
<text transform="translate(352.20,337.25) rotate(-90)" font-family='"Liberation Sans", sans-serif' font-size="4.0" font-weight="bold" text-anchor="middle" fill="#000">CXCR3</text>
<rect x="375.4" y="329.4" width="20" height="19.5" fill="none" stroke="#666" stroke-width="0.8"/>
<path d="M381.5 349C382.5 346 384 344.5 385 344.5C386 344.5 387.5 346 388.5 349" fill="none" stroke="#777" stroke-width="0.6"/>
<g fill="#999"><circle cx="386.0" cy="353.1" r="0.35"/><circle cx="379.1" cy="356.0" r="0.35"/><circle cx="385.3" cy="354.2" r="0.35"/><circle cx="384.8" cy="358.3" r="0.35"/><circle cx="388.0" cy="357.2" r="0.35"/><circle cx="382.8" cy="351.5" r="0.35"/><circle cx="379.7" cy="352.2" r="0.35"/><circle cx="372.3" cy="358.6" r="0.35"/><circle cx="384.7" cy="353.4" r="0.35"/><circle cx="387.9" cy="351.8" r="0.35"/><circle cx="385.2" cy="355.7" r="0.35"/><circle cx="377.3" cy="358.9" r="0.35"/><circle cx="384.7" cy="355.2" r="0.35"/><circle cx="379.6" cy="351.0" r="0.35"/><circle cx="391.5" cy="351.3" r="0.35"/><circle cx="382.3" cy="354.7" r="0.35"/><circle cx="390.3" cy="344.8" r="0.35"/><circle cx="390.5" cy="354.0" r="0.35"/><circle cx="388.0" cy="349.6" r="0.35"/><circle cx="385.4" cy="358.6" r="0.35"/><circle cx="383.7" cy="350.9" r="0.35"/><circle cx="382.2" cy="351.3" r="0.35"/><circle cx="387.6" cy="353.7" r="0.35"/><circle cx="381.9" cy="355.8" r="0.35"/><circle cx="379.3" cy="348.2" r="0.35"/></g>
<ellipse cx="384.3" cy="353.5" rx="6.4" ry="5.6" fill="url(#soft2)" opacity="0.9"/>
<ellipse cx="384.6" cy="353.6" rx="3.4" ry="3" fill="none" stroke="#111" stroke-width="1.5"/>
<ellipse cx="384.6" cy="353.6" rx="1.5" ry="1.3" fill="#333"/>
<text x="380.5" y="321" font-family='"Liberation Sans", sans-serif' font-size="4.2" font-weight="bold" text-anchor="middle" fill="#000">3.3</text>
<rect x="354.3" y="376.5" width="52.70" height="52.70" fill="none" stroke="#111" stroke-width="1.2"/>
<path d="M352.80 385.28H354.30 M363.08 429.20V430.70 M352.80 394.07H354.30 M371.87 429.20V430.70 M352.80 402.85H354.30 M380.65 429.20V430.70 M352.80 411.63H354.30 M389.43 429.20V430.70 M352.80 420.42H354.30 M398.22 429.20V430.70" stroke="#333" stroke-width="0.6"/>
<text x="380.65" y="433.80" font-family='"Liberation Sans", sans-serif' font-size="4.0" font-weight="bold" text-anchor="middle" fill="#000">CD4+CD146+CCR5+</text>
<text transform="translate(351.90,402.85) rotate(-90)" font-family='"Liberation Sans", sans-serif' font-size="4.0" font-weight="bold" text-anchor="middle" fill="#000">CXCR3</text>
<rect x="375.4" y="395.5" width="20" height="19.5" fill="none" stroke="#666" stroke-width="0.8"/>
<path d="M380 413C378.8 409 382 406.5 384 405C386 403 388.5 403.5 389.3 406C390 408.5 389 410 388.5 411C390.5 413 390 416 388 417.5C386 418.5 383.5 417 382.5 415Z" fill="#ececec" stroke="#080808" stroke-width="1.6"/>
<path d="M383 412C383.5 409.5 385 408 386.5 407.5M384.5 414C386 413 387.5 412 388 410.5" fill="none" stroke="#333" stroke-width="0.9"/>
<ellipse cx="382.8" cy="419.6" rx="2.1" ry="3.8" transform="rotate(-20 382.8 419.6)" fill="none" stroke="#0a0a0a" stroke-width="1.5"/>
<path d="M384 379L386 381.5L388 379" fill="none" stroke="#444" stroke-width="0.6"/>
<text x="380.7" y="387.2" font-family='"Liberation Sans", sans-serif' font-size="4.2" font-weight="bold" text-anchor="middle" fill="#000">48</text>
<g font-family='"Liberation Sans", sans-serif' font-size="7.3" fill="#222">
<rect x="68" y="445.5" width="14.8" height="5.7" fill="#e2808f"/>
<rect x="68" y="457.2" width="14.8" height="5.6" fill="#80a6c8"/>
<rect x="68" y="468.3" width="14.8" height="5.6" fill="#90d89c"/>
<text x="85.8" y="451">GVHD</text>
<text x="85.8" y="462.1">No GVHD</text>
<text x="85.8" y="473.8">HD</text>
</g>
<rect x="147.9" y="572.55" width="12.50" height="6.65" fill="#90d89c"/>
<rect x="166.2" y="566.28" width="12.50" height="12.92" fill="#80a6c8"/>
<rect x="184.6" y="515.93" width="12.30" height="63.27" fill="#e2808f"/>
<path d="M172.45 566.28V554.50M168.85 554.50H176.05" stroke="#222" stroke-width="1.1" fill="none"/>
<path d="M190.75 515.93V501.30M187.15 501.30H194.35" stroke="#222" stroke-width="1.1" fill="none"/>
<circle cx="151" cy="574.07" r="1.9" fill="#2ab34a"/>
<circle cx="154.2" cy="570.65" r="1.9" fill="#2ab34a"/>
<circle cx="157.3" cy="573.69" r="1.9" fill="#2ab34a"/>
<circle cx="168.7" cy="578.82" r="1.9" fill="#0d4e92"/>
<circle cx="171.9" cy="543.29" r="1.9" fill="#0d4e92"/>
<circle cx="175.4" cy="577.49" r="1.9" fill="#0d4e92"/>
<circle cx="190.8" cy="497.69" r="1.9" fill="#cc0a2a"/>
<circle cx="190.8" cy="505.48" r="1.9" fill="#cc0a2a"/>
<circle cx="190.8" cy="545.38" r="1.9" fill="#cc0a2a"/>
<text x="134.90" y="582.20" font-family='"Liberation Sans", sans-serif' font-size="8.3" text-anchor="end" fill="#222">0</text>
<text x="134.90" y="563.20" font-family='"Liberation Sans", sans-serif' font-size="8.3" text-anchor="end" fill="#222">10</text>
<text x="134.90" y="544.20" font-family='"Liberation Sans", sans-serif' font-size="8.3" text-anchor="end" fill="#222">20</text>
<text x="134.90" y="525.20" font-family='"Liberation Sans", sans-serif' font-size="8.3" text-anchor="end" fill="#222">30</text>
<text x="134.90" y="506.20" font-family='"Liberation Sans", sans-serif' font-size="8.3" text-anchor="end" fill="#222">40</text>
<text x="134.90" y="487.20" font-family='"Liberation Sans", sans-serif' font-size="8.3" text-anchor="end" fill="#222">50</text>
<path d="M140.8 483.70V579.2H203.3 M138.20 579.20H140.8 M138.20 560.20H140.8 M138.20 541.20H140.8 M138.20 522.20H140.8 M138.20 503.20H140.8 M138.20 484.20H140.8 M154.15 579.2V582.0 M172.45 579.2V582.0 M190.75 579.2V582.0" stroke="#111" stroke-width="1.2" fill="none"/>
<text transform="translate(121.1,531.95) rotate(-90)" font-family='"Liberation Sans", sans-serif' font-size="9.8" text-anchor="middle" fill="#222" textLength="83.1" lengthAdjust="spacingAndGlyphs">CD4<tspan dy="-3.4" font-size="6.8">+</tspan><tspan dy="3.4"> </tspan>CXCR3<tspan dy="-3.4" font-size="6.8">+</tspan><tspan dy="3.4"> </tspan>T cells (%)</text>
<text x="177.3" y="489.2" font-family='"Liberation Sans", sans-serif' font-size="7.3" text-anchor="middle" fill="#222">p=0.04</text>
<path d="M162.9 492.4H191.7" stroke="#222" stroke-width="1"/>
<text x="163.8" y="534.6" font-family='"Liberation Sans", sans-serif' font-size="7.3" text-anchor="middle" fill="#222">n.s.</text>
<path d="M153.3 537.2H175.4" stroke="#222" stroke-width="1"/>
<rect x="247.5" y="573.52" width="12.90" height="5.68" fill="#90d89c"/>
<rect x="266.3" y="569.27" width="12.90" height="9.93" fill="#80a6c8"/>
<rect x="285.0" y="529.30" width="12.90" height="49.90" fill="#e2808f"/>
<path d="M272.75 569.27V568.32M269.15 568.32H276.35" stroke="#222" stroke-width="1.1" fill="none"/>
<path d="M291.45 529.30V517.47M287.85 517.47H295.05" stroke="#222" stroke-width="1.1" fill="none"/>
<circle cx="249.4" cy="574.71" r="1.9" fill="#2ab34a"/>
<circle cx="254.2" cy="573.76" r="1.9" fill="#2ab34a"/>
<circle cx="259" cy="574.71" r="1.9" fill="#2ab34a"/>
<circle cx="270.6" cy="570.69" r="1.9" fill="#0d4e92"/>
<circle cx="273.1" cy="566.43" r="1.9" fill="#0d4e92"/>
<circle cx="276.3" cy="569.74" r="1.9" fill="#0d4e92"/>
<circle cx="291.7" cy="511.09" r="1.9" fill="#cc0a2a"/>
<circle cx="291.7" cy="525.51" r="1.9" fill="#cc0a2a"/>
<circle cx="291.7" cy="551.29" r="1.9" fill="#cc0a2a"/>
<text x="234.90" y="582.20" font-family='"Liberation Sans", sans-serif' font-size="8.3" text-anchor="end" fill="#222">0</text>
<text x="234.90" y="558.55" font-family='"Liberation Sans", sans-serif' font-size="8.3" text-anchor="end" fill="#222">10</text>
<text x="234.90" y="534.90" font-family='"Liberation Sans", sans-serif' font-size="8.3" text-anchor="end" fill="#222">20</text>
<text x="234.90" y="511.25" font-family='"Liberation Sans", sans-serif' font-size="8.3" text-anchor="end" fill="#222">30</text>
<text x="234.90" y="487.60" font-family='"Liberation Sans", sans-serif' font-size="8.3" text-anchor="end" fill="#222">40</text>
<path d="M240.8 484.10V579.2H303.8 M238.20 579.20H240.8 M238.20 555.55H240.8 M238.20 531.90H240.8 M238.20 508.25H240.8 M238.20 484.60H240.8 M253.95 579.2V582.0 M272.75 579.2V582.0 M291.45 579.2V582.0" stroke="#111" stroke-width="1.2" fill="none"/>
<text transform="translate(221.8,532.00) rotate(-90)" font-family='"Liberation Sans", sans-serif' font-size="9.8" text-anchor="middle" fill="#222" textLength="87.0" lengthAdjust="spacingAndGlyphs">CD146<tspan dy="-3.4" font-size="6.8">+</tspan><tspan dy="3.4"> </tspan>CCR5<tspan dy="-3.4" font-size="6.8">+</tspan><tspan dy="3.4"> </tspan>T cells (%)</text>
<text x="283.1" y="502.3" font-family='"Liberation Sans", sans-serif' font-size="7.3" text-anchor="middle" fill="#222">p=0.01</text>
<path d="M270 505.5H298" stroke="#222" stroke-width="1"/>
<text x="261" y="553.6" font-family='"Liberation Sans", sans-serif' font-size="7.3" text-anchor="middle" fill="#222">n.s.</text>
<path d="M249.4 555.9H271.5" stroke="#222" stroke-width="1"/>
<rect x="355.5" y="575.42" width="12.70" height="3.58" fill="#90d89c"/>
<rect x="373.5" y="570.05" width="12.70" height="8.95" fill="#80a6c8"/>
<rect x="391.9" y="520.83" width="12.20" height="58.17" fill="#e2808f"/>
<path d="M379.85 570.05V562.11M376.25 562.11H383.45" stroke="#222" stroke-width="1.1" fill="none"/>
<path d="M398.00 520.83V508.52M394.40 508.52H401.60" stroke="#222" stroke-width="1.1" fill="none"/>
<circle cx="361.4" cy="571.17" r="1.9" fill="#2ab34a"/>
<circle cx="361.4" cy="573.85" r="1.9" fill="#2ab34a"/>
<circle cx="361.4" cy="576.32" r="1.9" fill="#2ab34a"/>
<circle cx="379.8" cy="554.50" r="1.9" fill="#0d4e92"/>
<circle cx="379.8" cy="575.64" r="1.9" fill="#0d4e92"/>
<circle cx="379.8" cy="578.78" r="1.9" fill="#0d4e92"/>
<circle cx="397.8" cy="501.92" r="1.9" fill="#cc0a2a"/>
<circle cx="397.8" cy="515.68" r="1.9" fill="#cc0a2a"/>
<circle cx="397.8" cy="547.23" r="1.9" fill="#cc0a2a"/>
<text x="343.70" y="582.00" font-family='"Liberation Sans", sans-serif' font-size="8.3" text-anchor="end" fill="#222">0</text>
<text x="343.70" y="559.62" font-family='"Liberation Sans", sans-serif' font-size="8.3" text-anchor="end" fill="#222">20</text>
<text x="343.70" y="537.25" font-family='"Liberation Sans", sans-serif' font-size="8.3" text-anchor="end" fill="#222">40</text>
<text x="343.70" y="514.88" font-family='"Liberation Sans", sans-serif' font-size="8.3" text-anchor="end" fill="#222">60</text>
<text x="343.70" y="492.50" font-family='"Liberation Sans", sans-serif' font-size="8.3" text-anchor="end" fill="#222">80</text>
<path d="M349.6 489.00V579.0H409.4 M347.00 579.00H349.6 M347.00 556.62H349.6 M347.00 534.25H349.6 M347.00 511.88H349.6 M347.00 489.50H349.6 M361.85 579.0V581.8 M379.85 579.0V581.8 M398.00 579.0V581.8" stroke="#111" stroke-width="1.2" fill="none"/>
<text transform="translate(327.9,531.35) rotate(-90)" font-family='"Liberation Sans", sans-serif' font-size="9.8" text-anchor="middle" fill="#222" textLength="114.3" lengthAdjust="spacingAndGlyphs">CD146<tspan dy="-3.4" font-size="6.8">+</tspan><tspan dy="3.4"> </tspan>CCR5<tspan dy="-3.4" font-size="6.8">+</tspan><tspan dy="3.4"> </tspan>CXCR3<tspan dy="-3.4" font-size="6.8">+</tspan><tspan dy="3.4"> </tspan>T cells (%)</text>
<text x="389.3" y="485.4" font-family='"Liberation Sans", sans-serif' font-size="7.3" text-anchor="middle" fill="#222">p=0.02</text>
<path d="M375 488.7H403.1" stroke="#222" stroke-width="1"/>
<text x="372.8" y="541.5" font-family='"Liberation Sans", sans-serif' font-size="7.3" text-anchor="middle" fill="#222">n.s.</text>
<path d="M362.9 544.1H382.6" stroke="#222" stroke-width="1"/>
</svg></div></body></html>
